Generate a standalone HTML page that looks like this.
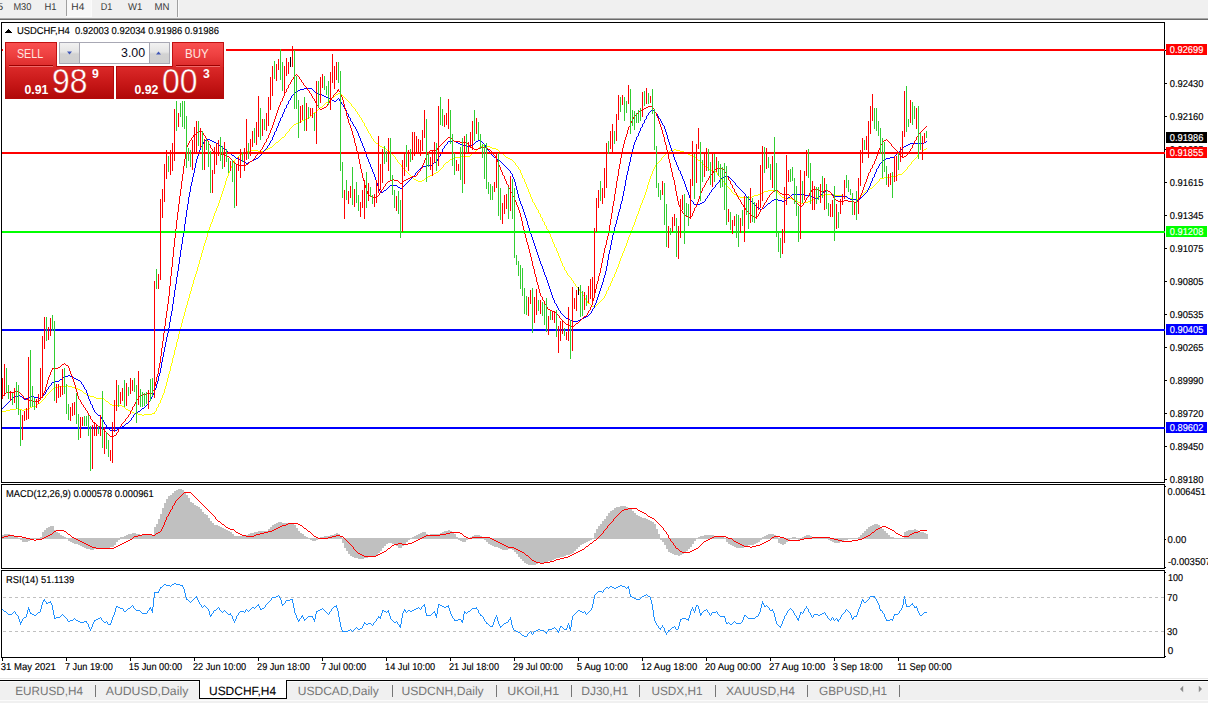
<!DOCTYPE html><html><head><meta charset="utf-8"><title>USDCHF,H4</title><style>
html,body{margin:0;padding:0;background:#fff;}
body{width:1208px;height:703px;overflow:hidden;position:relative;font-family:"Liberation Sans",sans-serif;}
.abs{position:absolute;}
.t{position:absolute;white-space:nowrap;line-height:1;}
svg text{font-family:"Liberation Sans",sans-serif;}
</style></head><body>
<div class="abs" style="left:0;top:0;width:1208px;height:18px;background:#f0f0f0"></div>
<div class="abs" style="left:0;top:18px;width:1208px;height:1px;background:#a8a8a8"></div>
<div class="abs" style="left:0;top:19px;width:1208px;height:1px;background:#6a6a6a"></div>
<div class="abs" style="left:66px;top:0;width:1px;height:16px;background:#a0a0a0"></div>
<div class="abs" style="left:67px;top:0;width:24px;height:16px;background:#f8f8f8"></div>
<div class="abs" style="left:91px;top:0;width:1px;height:17px;background:#fbfbfb"></div>
<div class="abs" style="left:66px;top:16px;width:26px;height:1px;background:#fbfbfb"></div>
<div class="abs" style="left:177px;top:0;width:1px;height:17px;background:#a0a0a0"></div>
<div class="abs" style="left:178px;top:0;width:1px;height:17px;background:#fafafa"></div>
<svg class="abs" style="left:0;top:0" width="1208" height="703" viewBox="0 0 1208 703" shape-rendering="crispEdges">
<path d="M2 411v1M3 411v1M4 411v1M5 411v1M6 410v1M7 410v1M8 410v1M9 410v1M10 409v1M11 409v1M12 409v1M13 409v1M14 409v1M15 409v1M16 408v1M17 408v1M18 409v1M19 409v1M20 409v1M21 409v1M22 410v1M23 410v1M24 409v1M25 409v1M26 409v1M27 409v1M28 408v1M29 408v1M30 407v1M31 407v1M32 406v1M33 406v1M34 406v1M35 406v1M36 405v1M37 404v1M38 403v1M39 403v1M40 402v1M41 401v1M42 400v1M43 399v1M44 398v1M45 396v2M46 395v1M47 394v1M48 393v1M49 392v1M50 391v1M51 390v1M52 389v1M53 388v1M54 387v1M55 387v1M56 387v1M57 387v1M58 386v1M59 386v1M60 386v1M61 386v1M62 386v1M63 386v1M64 386v1M65 386v1M66 385v1M67 385v1M68 386v1M69 386v1M70 386v1M71 386v1M72 387v1M73 387v1M74 387v1M75 387v1M76 388v1M77 388v1M78 389v1M79 389v1M80 390v1M81 390v1M82 391v1M83 392v1M84 393v1M85 393v1M86 394v1M87 394v1M88 395v1M89 395v1M90 396v1M91 396v1M92 396v1M93 396v1M94 397v1M95 397v1M96 398v1M97 398v1M98 398v1M99 398v1M100 398v1M101 398v1M102 398v1M103 398v1M104 399v1M105 400v1M106 401v1M107 401v1M108 402v1M109 403v1M110 404v1M111 404v1M112 405v1M113 405v1M114 405v1M115 405v1M116 405v1M117 405v1M118 405v1M119 405v1M120 405v1M121 405v1M122 406v1M123 406v1M124 407v1M125 408v1M126 409v1M127 409v1M128 410v1M129 410v1M130 411v1M131 411v1M132 412v1M133 412v1M134 413v1M135 413v1M136 413v1M137 413v1M138 414v1M139 414v1M140 414v1M141 414v1M142 415v1M143 415v1M144 414v1M145 414v1M146 414v1M147 414v1M148 414v1M149 414v1M150 414v1M151 414v1M152 413v1M153 413v1M154 412v2M155 411v1M156 408v3M157 407v1M158 404v3M159 403v1M160 400v3M161 398v2M162 395v3M163 393v2M164 389v4M165 386v3M166 382v4M167 378v4M168 374v4M169 371v3M170 366v5M171 363v3M172 358v5M173 355v3M174 350v5M175 347v3M176 342v5M177 339v3M178 334v5M179 331v3M180 327v4M181 323v4M182 319v4M183 316v3M184 312v4M185 308v4M186 305v3M187 301v4M188 298v3M189 294v4M190 291v3M191 287v4M192 284v3M193 280v4M194 277v3M195 274v3M196 271v3M197 267v4M198 264v3M199 260v4M200 257v3M201 253v4M202 250v3M203 246v4M204 243v3M205 240v3M206 237v3M207 233v4M208 230v3M209 227v3M210 224v3M211 222v2M212 219v3M213 216v3M214 213v3M215 211v2M216 208v3M217 206v2M218 203v3M219 200v3M220 197v3M221 194v3M222 191v3M223 188v3M224 185v3M225 181v4M226 178v3M227 176v2M228 173v3M229 171v2M230 168v3M231 166v2M232 163v3M233 162v1M234 160v2M235 159v1M236 158v1M237 157v1M238 156v1M239 155v1M240 154v1M241 154v1M242 153v1M243 153v1M244 152v1M245 152v1M246 151v1M247 151v1M248 151v1M249 151v1M250 150v1M251 150v1M252 150v1M253 150v1M254 150v1M255 150v1M256 150v1M257 150v1M258 151v1M259 151v1M260 151v1M261 151v1M262 151v1M263 151v1M264 150v1M265 150v1M266 149v1M267 149v1M268 148v1M269 148v1M270 147v1M271 147v1M272 146v1M273 145v1M274 144v1M275 143v1M276 142v1M277 142v1M278 141v1M279 140v1M280 139v1M281 138v1M282 137v1M283 137v1M284 136v1M285 134v2M286 133v1M287 132v1M288 131v1M289 129v2M290 128v1M291 127v1M292 126v1M293 125v1M294 124v1M295 124v1M296 123v1M297 123v1M298 122v1M299 122v1M300 121v1M301 121v1M302 120v1M303 120v1M304 119v1M305 119v1M306 118v1M307 118v1M308 117v1M309 117v1M310 116v1M311 115v1M312 114v1M313 113v1M314 112v1M315 112v1M316 111v1M317 110v1M318 109v1M319 108v1M320 107v1M321 107v1M322 106v1M323 105v1M324 104v1M325 103v1M326 102v1M327 102v1M328 101v1M329 100v1M330 99v1M331 98v1M332 97v1M333 97v1M334 96v1M335 95v1M336 94v1M337 94v1M338 93v1M339 93v1M340 94v1M341 94v1M342 95v1M343 96v1M344 97v1M345 98v1M346 99v1M347 100v1M348 101v1M349 102v1M350 103v1M351 104v2M352 106v1M353 107v1M354 108v1M355 109v2M356 111v1M357 112v2M358 114v1M359 115v2M360 117v1M361 118v2M362 120v2M363 122v1M364 123v3M365 126v1M366 127v2M367 129v2M368 131v2M369 133v1M370 134v2M371 136v2M372 138v1M373 139v2M374 141v1M375 142v1M376 143v1M377 143v1M378 144v1M379 145v1M380 146v1M381 146v1M382 147v1M383 147v1M384 148v1M385 148v1M386 149v1M387 150v1M388 151v1M389 151v1M390 152v1M391 153v1M392 154v1M393 155v1M394 156v1M395 157v2M396 159v1M397 160v2M398 162v1M399 163v1M400 164v1M401 165v2M402 167v1M403 168v1M404 169v1M405 170v1M406 171v1M407 172v1M408 173v1M409 174v1M410 175v1M411 176v1M412 177v1M413 178v1M414 179v1M415 179v1M416 180v1M417 180v1M418 181v1M419 181v1M420 181v1M421 181v1M422 180v1M423 180v1M424 179v1M425 178v1M426 177v1M427 177v1M428 176v1M429 176v1M430 175v1M431 175v1M432 174v1M433 174v1M434 173v1M435 173v1M436 172v1M437 172v1M438 171v1M439 170v1M440 169v1M441 168v1M442 167v1M443 165v2M444 164v1M445 163v1M446 162v1M447 162v1M448 161v1M449 160v1M450 159v1M451 159v1M452 158v1M453 158v1M454 157v1M455 157v1M456 157v1M457 157v1M458 157v1M459 157v1M460 156v1M461 156v1M462 156v1M463 156v1M464 156v1M465 156v1M466 156v1M467 156v1M468 156v1M469 156v1M470 155v1M471 154v1M472 153v1M473 153v1M474 152v1M475 151v1M476 150v1M477 149v1M478 148v1M479 147v1M480 146v1M481 146v1M482 145v1M483 145v1M484 145v1M485 145v1M486 146v1M487 146v1M488 146v1M489 146v1M490 147v1M491 147v1M492 148v1M493 148v1M494 148v1M495 148v1M496 149v1M497 149v1M498 150v1M499 151v1M500 152v1M501 152v1M502 153v1M503 154v1M504 155v1M505 156v1M506 157v1M507 157v1M508 158v1M509 158v1M510 159v1M511 159v1M512 160v1M513 161v1M514 162v1M515 163v2M516 165v1M517 166v1M518 167v2M519 169v1M520 170v3M521 173v2M522 175v3M523 178v1M524 179v3M525 182v2M526 184v3M527 187v2M528 189v3M529 192v2M530 194v3M531 197v2M532 199v3M533 202v1M534 203v2M535 205v2M536 207v2M537 209v1M538 210v3M539 213v1M540 214v3M541 217v1M542 218v3M543 221v1M544 222v3M545 225v1M546 226v3M547 229v1M548 230v3M549 233v1M550 234v3M551 237v2M552 239v3M553 242v2M554 244v3M555 247v1M556 248v3M557 251v2M558 253v3M559 256v2M560 258v3M561 261v2M562 263v3M563 266v1M564 267v3M565 270v1M566 271v2M567 273v2M568 275v1M569 276v1M570 277v1M571 278v2M572 280v1M573 281v2M574 283v1M575 284v2M576 286v1M577 287v1M578 288v1M579 289v2M580 291v1M581 292v1M582 293v2M583 295v1M584 296v2M585 298v2M586 300v1M587 301v2M588 303v1M589 303v1M590 304v1M591 305v1M592 306v1M593 306v1M594 306v1M595 306v1M596 305v1M597 304v1M598 303v1M599 302v1M600 301v1M601 300v1M602 299v1M603 298v1M604 296v2M605 294v2M606 291v3M607 290v1M608 287v3M609 286v1M610 283v3M611 281v2M612 278v3M613 277v1M614 274v3M615 272v2M616 269v3M617 267v2M618 264v3M619 261v3M620 258v3M621 256v2M622 253v3M623 251v2M624 248v3M625 246v2M626 243v3M627 240v3M628 237v3M629 235v2M630 232v3M631 230v2M632 227v3M633 225v2M634 222v3M635 219v3M636 216v3M637 214v2M638 211v3M639 208v3M640 205v3M641 203v2M642 200v3M643 198v2M644 195v3M645 192v3M646 189v3M647 185v4M648 182v3M649 179v3M650 176v3M651 174v2M652 171v3M653 169v2M654 167v2M655 165v2M656 164v1M657 163v1M658 162v1M659 161v1M660 160v1M661 158v2M662 157v1M663 156v1M664 155v1M665 154v1M666 153v1M667 153v1M668 152v1M669 151v1M670 150v1M671 150v1M672 150v1M673 150v1M674 149v1M675 149v1M676 150v1M677 150v1M678 150v1M679 150v1M680 151v1M681 151v1M682 151v1M683 151v1M684 152v1M685 152v1M686 153v1M687 153v1M688 154v1M689 154v1M690 155v1M691 155v1M692 156v1M693 156v1M694 157v1M695 157v1M696 158v1M697 159v1M698 160v1M699 160v1M700 161v1M701 162v1M702 163v1M703 164v1M704 165v1M705 166v1M706 167v1M707 167v1M708 168v1M709 169v1M710 170v1M711 170v1M712 171v1M713 171v1M714 171v1M715 171v1M716 172v1M717 173v2M718 175v1M719 176v1M720 177v1M721 178v2M722 180v1M723 181v1M724 182v1M725 183v2M726 185v1M727 186v1M728 187v1M729 188v1M730 189v1M731 190v2M732 192v1M733 193v1M734 194v1M735 194v1M736 195v1M737 195v1M738 196v1M739 196v1M740 197v1M741 197v1M742 197v1M743 197v1M744 197v1M745 197v1M746 197v1M747 197v1M748 197v1M749 197v1M750 197v1M751 197v1M752 196v1M753 196v1M754 195v1M755 195v1M756 195v1M757 195v1M758 194v1M759 194v1M760 193v1M761 193v1M762 192v1M763 192v1M764 191v1M765 191v1M766 191v1M767 191v1M768 190v1M769 190v1M770 190v1M771 190v1M772 190v1M773 190v1M774 190v1M775 190v1M776 190v1M777 191v2M778 193v1M779 194v1M780 195v1M781 196v1M782 197v1M783 197v1M784 198v1M785 198v1M786 198v1M787 198v1M788 198v1M789 198v1M790 198v1M791 198v1M792 199v1M793 199v1M794 200v1M795 200v1M796 201v1M797 201v1M798 202v1M799 202v1M800 203v1M801 203v1M802 203v1M803 203v1M804 202v1M805 202v1M806 202v1M807 202v1M808 201v1M809 201v1M810 200v1M811 200v1M812 199v1M813 199v1M814 198v1M815 198v1M816 197v1M817 197v1M818 196v1M819 196v1M820 195v1M821 195v1M822 195v1M823 195v1M824 194v1M825 194v1M826 194v1M827 194v1M828 194v1M829 194v1M830 194v1M831 194v1M832 194v1M833 194v1M834 195v1M835 195v1M836 195v1M837 195v1M838 195v1M839 195v1M840 195v1M841 195v1M842 196v1M843 196v1M844 196v1M845 196v1M846 197v1M847 197v1M848 198v1M849 198v1M850 198v1M851 198v1M852 199v1M853 199v1M854 199v1M855 199v1M856 199v1M857 199v1M858 198v1M859 197v1M860 196v1M861 195v1M862 194v1M863 193v1M864 192v1M865 191v1M866 190v1M867 190v1M868 189v1M869 189v1M870 188v1M871 188v1M872 187v1M873 186v1M874 185v1M875 184v1M876 183v1M877 182v1M878 181v1M879 179v2M880 178v1M881 178v1M882 178v1M883 178v1M884 177v1M885 177v1M886 177v1M887 177v1M888 177v1M889 177v1M890 176v1M891 176v1M892 176v1M893 176v1M894 176v1M895 176v1M896 175v1M897 175v1M898 174v1M899 174v1M900 174v1M901 174v1M902 173v1M903 172v1M904 171v1M905 170v1M906 169v1M907 167v2M908 166v1M909 165v1M910 164v1M911 162v2M912 161v1M913 160v1M914 159v1M915 158v1M916 157v1M917 155v2M918 154v1M919 153v1M920 152v1M921 152v1M922 151v1M923 150v1M924 149v1M925 149v1M926 148v1" stroke="#ffff00" stroke-width="1" fill="none" transform="translate(0.5,0)"/>
<path d="M2 408v1M3 407v1M4 406v1M5 405v1M6 404v1M7 403v1M8 402v1M9 401v1M10 400v1M11 399v1M12 398v1M13 397v1M14 396v1M15 396v1M16 396v1M17 396v1M18 395v1M19 395v1M20 396v1M21 396v1M22 397v1M23 398v1M24 399v1M25 399v1M26 398v1M27 398v1M28 397v1M29 397v1M30 396v1M31 396v1M32 396v1M33 396v1M34 397v1M35 397v1M36 397v1M37 397v1M38 398v1M39 398v1M40 398v1M41 397v1M42 396v1M43 395v1M44 394v1M45 392v2M46 390v2M47 389v1M48 387v2M49 386v1M50 385v1M51 383v2M52 382v1M53 382v1M54 381v1M55 381v1M56 381v1M57 381v1M58 381v1M59 380v1M60 379v1M61 379v1M62 378v1M63 377v1M64 376v1M65 376v1M66 376v1M67 376v1M68 375v1M69 375v1M70 376v1M71 376v1M72 377v1M73 377v1M74 378v1M75 378v1M76 379v1M77 379v1M78 380v1M79 380v1M80 381v1M81 382v2M82 384v1M83 385v2M84 387v2M85 389v1M86 390v3M87 393v3M88 396v3M89 399v2M90 401v3M91 404v1M92 405v3M93 408v2M94 410v2M95 412v1M96 413v1M97 414v1M98 415v1M99 415v1M100 416v1M101 417v2M102 419v1M103 420v2M104 422v2M105 424v1M106 425v2M107 427v1M108 428v1M109 429v1M110 430v1M111 430v1M112 430v1M113 430v1M114 430v1M115 430v1M116 430v1M117 429v1M118 428v1M119 428v1M120 427v1M121 427v1M122 426v1M123 426v1M124 425v1M125 424v1M126 423v1M127 423v1M128 422v1M129 421v1M130 420v1M131 418v2M132 417v1M133 415v2M134 414v1M135 413v1M136 412v1M137 412v1M138 411v1M139 411v1M140 410v1M141 409v1M142 408v1M143 408v1M144 407v1M145 406v1M146 405v1M147 404v1M148 402v2M149 401v1M150 399v2M151 397v2M152 395v2M153 393v2M154 390v3M155 388v2M156 384v4M157 381v3M158 376v5M159 373v3M160 368v5M161 362v6M162 357v5M163 352v5M164 347v5M165 342v5M166 337v5M167 333v4M168 328v5M169 322v6M170 316v6M171 311v5M172 304v7M173 297v7M174 290v7M175 284v6M176 277v7M177 271v6M178 264v7M179 257v7M180 250v7M181 244v6M182 237v7M183 231v6M184 224v7M185 217v7M186 210v7M187 204v6M188 197v7M189 192v5M190 186v6M191 182v4M192 177v5M193 173v4M194 168v5M195 163v5M196 159v4M197 156v3M198 153v3M199 150v3M200 147v3M201 146v1M202 144v2M203 142v2M204 141v1M205 140v1M206 139v1M207 139v1M208 139v1M209 139v1M210 140v1M211 140v1M212 141v1M213 141v1M214 142v1M215 142v1M216 143v1M217 143v1M218 144v1M219 145v1M220 146v1M221 146v1M222 147v1M223 148v1M224 149v1M225 149v1M226 150v1M227 151v1M228 152v1M229 152v1M230 153v1M231 154v1M232 155v1M233 155v1M234 156v1M235 157v1M236 158v1M237 158v1M238 159v1M239 159v1M240 160v1M241 160v1M242 161v1M243 161v1M244 162v1M245 162v1M246 163v1M247 163v1M248 162v1M249 162v1M250 161v1M251 161v1M252 160v1M253 160v1M254 159v1M255 159v1M256 158v1M257 158v1M258 157v1M259 156v1M260 155v1M261 154v1M262 153v1M263 151v2M264 150v1M265 149v1M266 148v1M267 146v2M268 145v1M269 143v2M270 141v2M271 140v1M272 137v3M273 135v2M274 132v3M275 131v1M276 128v3M277 126v2M278 123v3M279 121v2M280 118v3M281 117v1M282 114v3M283 112v2M284 109v3M285 108v1M286 105v3M287 104v1M288 101v3M289 100v1M290 98v2M291 96v2M292 95v1M293 94v1M294 93v1M295 92v1M296 91v1M297 91v1M298 90v1M299 90v1M300 89v1M301 89v1M302 89v1M303 89v1M304 88v1M305 88v1M306 88v1M307 88v1M308 88v1M309 88v1M310 88v1M311 88v1M312 89v1M313 90v1M314 91v1M315 92v1M316 93v1M317 93v1M318 94v1M319 94v1M320 94v1M321 94v1M322 95v1M323 95v1M324 96v1M325 96v1M326 97v1M327 97v1M328 98v1M329 98v1M330 99v1M331 99v1M332 100v1M333 100v1M334 101v1M335 101v1M336 100v1M337 99v1M338 98v1M339 99v2M340 101v1M341 102v2M342 104v1M343 105v2M344 107v2M345 109v1M346 110v3M347 113v1M348 114v3M349 117v1M350 118v3M351 121v1M352 122v2M353 124v2M354 126v1M355 127v2M356 129v2M357 131v2M358 133v3M359 136v2M360 138v3M361 141v2M362 143v3M363 146v2M364 148v3M365 151v3M366 154v3M367 157v2M368 159v3M369 162v2M370 164v3M371 167v2M372 169v3M373 172v2M374 174v3M375 177v3M376 180v3M377 183v3M378 186v3M379 189v2M380 191v2M381 192v1M382 192v1M383 191v1M384 190v1M385 190v1M386 189v1M387 188v1M388 187v1M389 186v1M390 185v1M391 185v1M392 185v1M393 185v1M394 185v1M395 185v1M396 185v1M397 186v1M398 187v1M399 187v1M400 188v1M401 188v1M402 187v1M403 186v1M404 185v1M405 184v1M406 183v1M407 182v1M408 181v1M409 180v1M410 179v1M411 178v1M412 177v1M413 176v1M414 175v1M415 173v2M416 172v1M417 171v1M418 170v1M419 169v1M420 168v1M421 167v1M422 166v1M423 166v1M424 166v1M425 166v1M426 165v1M427 165v1M428 165v1M429 165v1M430 165v1M431 165v1M432 164v1M433 163v1M434 162v1M435 162v1M436 161v1M437 159v2M438 157v2M439 156v1M440 153v3M441 152v1M442 149v3M443 148v1M444 146v2M445 145v1M446 144v1M447 142v2M448 141v1M449 141v1M450 141v1M451 141v1M452 140v1M453 140v1M454 141v1M455 141v1M456 142v1M457 142v1M458 143v1M459 143v1M460 144v1M461 144v1M462 145v1M463 145v1M464 145v1M465 145v1M466 146v1M467 146v1M468 146v1M469 146v1M470 145v1M471 145v1M472 144v1M473 144v1M474 143v1M475 142v1M476 141v1M477 141v1M478 140v1M479 140v1M480 141v1M481 141v1M482 142v1M483 143v1M484 144v1M485 145v2M486 147v1M487 148v2M488 150v1M489 151v1M490 152v1M491 153v2M492 155v1M493 156v1M494 157v1M495 157v1M496 158v1M497 159v1M498 160v1M499 160v1M500 161v1M501 162v1M502 163v1M503 164v1M504 165v1M505 166v1M506 167v1M507 168v1M508 169v1M509 170v1M510 171v2M511 173v1M512 174v3M513 177v2M514 179v3M515 182v4M516 186v4M517 190v4M518 194v4M519 198v3M520 201v3M521 204v2M522 206v3M523 209v3M524 212v3M525 215v3M526 218v3M527 221v4M528 225v3M529 228v3M530 231v3M531 234v3M532 237v3M533 240v3M534 243v3M535 246v3M536 249v3M537 252v3M538 255v3M539 258v3M540 261v3M541 264v2M542 266v3M543 269v3M544 272v3M545 275v2M546 277v3M547 280v3M548 283v3M549 286v3M550 289v3M551 292v3M552 295v3M553 298v2M554 300v3M555 303v1M556 304v2M557 306v2M558 308v2M559 310v1M560 311v2M561 313v1M562 314v1M563 315v1M564 316v1M565 317v1M566 318v1M567 318v1M568 319v1M569 319v1M570 320v1M571 320v1M572 321v1M573 321v1M574 321v1M575 321v1M576 321v1M577 321v1M578 320v1M579 320v1M580 319v1M581 319v1M582 318v1M583 318v1M584 317v1M585 317v1M586 316v1M587 316v1M588 315v1M589 314v1M590 313v1M591 311v2M592 309v2M593 308v1M594 305v3M595 303v2M596 300v3M597 297v3M598 294v3M599 291v3M600 288v3M601 285v3M602 282v3M603 278v4M604 275v3M605 271v4M606 266v5M607 260v6M608 254v6M609 250v4M610 245v5M611 240v5M612 235v5M613 232v3M614 227v5M615 224v3M616 220v4M617 216v4M618 212v4M619 209v3M620 204v5M621 201v3M622 196v5M623 191v5M624 186v5M625 180v6M626 175v5M627 171v4M628 166v5M629 162v4M630 157v5M631 153v4M632 149v4M633 145v4M634 142v3M635 140v2M636 137v3M637 136v1M638 133v3M639 131v2M640 128v3M641 127v1M642 124v3M643 123v1M644 120v3M645 119v1M646 116v3M647 115v1M648 113v2M649 112v1M650 111v1M651 110v1M652 109v1M653 110v1M654 111v1M655 112v1M656 113v1M657 114v2M658 116v2M659 118v1M660 119v2M661 121v2M662 123v2M663 125v1M664 126v3M665 129v3M666 132v3M667 135v4M668 139v3M669 142v3M670 145v3M671 148v3M672 151v3M673 154v3M674 157v3M675 160v2M676 162v3M677 165v2M678 167v3M679 170v1M680 171v3M681 174v2M682 176v3M683 179v2M684 181v3M685 184v3M686 187v3M687 190v2M688 192v3M689 195v3M690 198v2M691 200v1M692 201v1M693 202v2M694 204v1M695 204v1M696 204v1M697 204v1M698 204v1M699 204v1M700 203v1M701 203v1M702 202v1M703 202v1M704 201v1M705 199v2M706 198v1M707 196v2M708 195v1M709 193v2M710 192v1M711 190v2M712 189v1M713 188v1M714 187v1M715 185v2M716 184v1M717 183v1M718 182v1M719 180v2M720 179v1M721 178v1M722 177v1M723 177v1M724 176v1M725 176v1M726 176v1M727 176v1M728 176v1M729 177v1M730 178v1M731 179v1M732 180v1M733 181v1M734 182v1M735 183v2M736 185v1M737 186v1M738 187v1M739 188v1M740 189v1M741 190v1M742 191v1M743 192v1M744 193v1M745 194v2M746 196v1M747 197v1M748 198v1M749 199v1M750 200v1M751 201v1M752 202v1M753 203v1M754 204v1M755 205v1M756 206v1M757 207v1M758 208v1M759 208v1M760 209v1M761 209v1M762 208v1M763 208v1M764 207v1M765 206v1M766 205v1M767 204v1M768 203v1M769 203v1M770 202v1M771 201v1M772 200v1M773 200v1M774 199v1M775 199v1M776 199v1M777 199v1M778 200v1M779 200v1M780 200v1M781 200v1M782 201v1M783 201v1M784 200v1M785 200v1M786 199v1M787 198v1M788 197v1M789 197v1M790 196v1M791 195v1M792 194v1M793 194v1M794 194v1M795 194v1M796 194v1M797 194v1M798 194v1M799 194v1M800 194v1M801 194v1M802 194v1M803 194v1M804 195v1M805 195v1M806 195v1M807 195v1M808 195v1M809 195v1M810 196v1M811 196v1M812 197v1M813 197v1M814 198v1M815 198v1M816 199v1M817 198v1M818 197v1M819 196v1M820 195v1M821 194v1M822 193v1M823 192v1M824 191v1M825 191v1M826 190v1M827 190v1M828 191v1M829 191v1M830 192v1M831 193v1M832 194v1M833 195v1M834 196v1M835 196v1M836 196v1M837 196v1M838 196v1M839 196v1M840 196v1M841 196v1M842 196v1M843 196v1M844 196v1M845 196v1M846 196v1M847 197v1M848 198v1M849 198v1M850 199v1M851 199v1M852 199v1M853 199v1M854 199v1M855 199v1M856 200v1M857 200v1M858 199v1M859 199v1M860 198v1M861 197v1M862 196v1M863 195v1M864 194v1M865 193v1M866 192v1M867 190v2M868 188v2M869 186v2M870 183v3M871 181v2M872 178v3M873 177v1M874 174v3M875 172v2M876 169v3M877 168v1M878 166v2M879 164v2M880 163v1M881 162v1M882 161v1M883 160v1M884 159v1M885 159v1M886 158v1M887 158v1M888 158v1M889 158v1M890 157v1M891 157v1M892 157v1M893 157v1M894 156v1M895 155v1M896 154v1M897 153v1M898 152v1M899 151v1M900 150v1M901 149v1M902 148v1M903 147v1M904 146v1M905 146v1M906 145v1M907 145v1M908 144v1M909 144v1M910 143v1M911 143v1M912 143v1M913 143v1M914 143v1M915 143v1M916 143v1M917 143v1M918 143v1M919 143v1M920 143v1M921 143v1M922 143v1M923 143v1M924 142v1M925 142v1M926 141v1" stroke="#0000ff" stroke-width="1" fill="none" transform="translate(0.5,0)"/>
<path d="M2 396v1M3 395v1M4 394v1M5 393v1M6 392v1M7 392v1M8 392v1M9 392v1M10 392v1M11 392v1M12 392v1M13 392v1M14 391v1M15 391v1M16 390v1M17 391v1M18 392v1M19 392v1M20 393v1M21 394v1M22 395v1M23 396v2M24 398v1M25 398v1M26 399v1M27 399v1M28 400v1M29 400v1M30 400v1M31 400v1M32 401v1M33 401v1M34 401v1M35 401v1M36 401v1M37 401v1M38 400v1M39 400v1M40 398v2M41 397v1M42 395v2M43 393v2M44 391v2M45 387v4M46 384v3M47 380v4M48 377v3M49 375v2M50 372v3M51 370v2M52 368v2M53 368v1M54 368v1M55 368v1M56 368v1M57 368v1M58 367v1M59 367v1M60 366v1M61 365v1M62 364v1M63 364v1M64 363v1M65 364v1M66 365v1M67 365v1M68 366v2M69 368v3M70 371v3M71 374v2M72 376v3M73 379v3M74 382v3M75 385v4M76 389v3M77 392v4M78 396v3M79 399v1M80 400v2M81 402v2M82 404v1M83 405v2M84 407v1M85 408v2M86 410v1M87 411v2M88 413v2M89 415v1M90 416v3M91 419v1M92 420v2M93 422v1M94 423v1M95 423v1M96 424v1M97 425v1M98 426v1M99 426v1M100 427v1M101 428v1M102 429v1M103 429v1M104 430v1M105 431v1M106 432v1M107 433v1M108 434v1M109 435v1M110 436v1M111 436v1M112 437v1M113 436v1M114 435v1M115 435v1M116 433v2M117 432v1M118 429v3M119 428v1M120 426v2M121 424v2M122 423v1M123 422v1M124 421v1M125 419v2M126 418v1M127 417v1M128 415v2M129 414v1M130 411v3M131 410v1M132 407v3M133 406v1M134 404v2M135 402v2M136 400v2M137 399v1M138 397v2M139 396v1M140 395v1M141 395v1M142 394v1M143 394v1M144 394v1M145 394v1M146 393v1M147 393v1M148 393v1M149 393v1M150 393v1M151 393v1M152 391v2M153 390v1M154 386v4M155 382v4M156 377v5M157 374v3M158 368v6M159 363v5M160 356v7M161 348v8M162 341v7M163 333v8M164 326v7M165 318v8M166 311v7M167 304v7M168 296v8M169 286v10M170 276v10M171 267v9M172 257v10M173 247v10M174 238v9M175 229v9M176 220v9M177 212v8M178 204v8M179 196v8M180 189v7M181 181v8M182 174v7M183 166v8M184 159v7M185 152v7M186 147v5M187 145v2M188 143v2M189 141v2M190 140v1M191 138v2M192 137v1M193 135v2M194 134v1M195 134v1M196 133v1M197 132v1M198 131v1M199 131v1M200 130v1M201 131v1M202 132v1M203 133v2M204 135v1M205 136v2M206 138v2M207 140v1M208 141v3M209 144v1M210 145v3M211 148v1M212 149v2M213 151v1M214 152v1M215 152v1M216 152v1M217 152v1M218 153v1M219 153v1M220 154v1M221 154v1M222 154v1M223 154v1M224 155v1M225 155v1M226 156v1M227 156v1M228 156v1M229 157v1M230 158v1M231 159v1M232 160v1M233 161v1M234 162v1M235 163v1M236 164v1M237 164v1M238 165v1M239 165v1M240 165v1M241 165v1M242 165v1M243 165v1M244 165v1M245 165v1M246 164v1M247 164v1M248 163v1M249 162v1M250 161v1M251 161v1M252 160v1M253 159v1M254 158v1M255 156v2M256 155v1M257 154v1M258 153v1M259 152v1M260 150v2M261 149v1M262 147v2M263 145v2M264 143v2M265 142v1M266 139v3M267 138v1M268 135v3M269 133v2M270 130v3M271 128v2M272 125v3M273 122v3M274 119v3M275 116v3M276 113v3M277 110v3M278 107v3M279 105v2M280 102v3M281 101v1M282 98v3M283 96v2M284 93v3M285 92v1M286 89v3M287 88v1M288 85v3M289 84v1M290 82v2M291 80v2M292 79v1M293 77v2M294 76v1M295 75v1M296 74v1M297 75v1M298 76v1M299 77v2M300 79v1M301 80v2M302 82v1M303 83v2M304 85v1M305 86v1M306 87v1M307 88v2M308 90v1M309 91v2M310 93v1M311 94v2M312 96v2M313 98v1M314 99v2M315 101v2M316 103v2M317 105v1M318 106v2M319 108v1M320 109v1M321 109v1M322 108v1M323 108v1M324 107v1M325 107v1M326 106v1M327 104v2M328 103v1M329 101v2M330 100v1M331 98v2M332 97v1M333 95v2M334 94v1M335 93v1M336 92v1M337 90v2M338 89v2M339 91v1M340 92v3M341 95v2M342 97v3M343 100v4M344 104v4M345 108v3M346 111v5M347 116v3M348 119v4M349 123v2M350 125v3M351 128v3M352 131v4M353 135v3M354 138v5M355 143v3M356 146v5M357 151v3M358 154v5M359 159v5M360 164v5M361 169v4M362 173v5M363 178v3M364 181v4M365 185v3M366 188v3M367 191v3M368 194v2M369 195v1M370 196v1M371 196v1M372 197v1M373 197v1M374 197v1M375 197v1M376 196v1M377 196v1M378 195v1M379 193v2M380 192v1M381 190v2M382 189v1M383 187v2M384 186v1M385 184v2M386 183v1M387 182v1M388 181v1M389 181v1M390 180v1M391 180v1M392 179v1M393 179v1M394 180v1M395 180v1M396 180v1M397 180v1M398 181v1M399 182v1M400 183v1M401 183v1M402 182v1M403 181v1M404 180v1M405 180v1M406 179v1M407 179v1M408 178v1M409 178v1M410 177v1M411 177v1M412 176v1M413 176v1M414 176v1M415 176v1M416 175v1M417 173v2M418 172v1M419 171v1M420 169v2M421 168v1M422 165v3M423 163v2M424 160v3M425 158v2M426 155v3M427 154v1M428 152v2M429 151v1M430 150v1M431 150v1M432 150v1M433 150v1M434 150v1M435 150v1M436 150v1M437 148v2M438 147v1M439 146v1M440 145v1M441 144v1M442 143v1M443 142v1M444 141v1M445 140v1M446 139v1M447 138v1M448 137v1M449 137v1M450 138v1M451 138v1M452 139v1M453 140v1M454 141v1M455 141v1M456 141v1M457 141v1M458 141v1M459 141v1M460 142v1M461 142v1M462 142v1M463 142v1M464 142v1M465 142v1M466 143v1M467 143v1M468 143v2M469 145v1M470 146v2M471 147v1M472 148v1M473 148v1M474 149v1M475 149v1M476 149v1M477 149v1M478 148v1M479 148v1M480 147v1M481 147v1M482 147v1M483 147v1M484 147v1M485 147v1M486 147v1M487 148v1M488 149v1M489 149v1M490 150v1M491 151v2M492 153v1M493 154v1M494 155v1M495 156v2M496 158v2M497 160v2M498 162v3M499 165v2M500 167v3M501 170v2M502 172v3M503 175v1M504 176v3M505 179v2M506 181v3M507 184v1M508 185v3M509 188v1M510 189v3M511 192v1M512 193v3M513 196v1M514 197v3M515 200v2M516 202v3M517 205v2M518 207v3M519 210v3M520 213v4M521 217v4M522 221v5M523 226v4M524 230v4M525 234v4M526 238v4M527 242v3M528 245v4M529 249v4M530 253v4M531 257v4M532 261v5M533 266v3M534 269v5M535 274v3M536 277v5M537 282v3M538 285v4M539 289v4M540 293v3M541 296v1M542 297v3M543 300v1M544 301v3M545 304v1M546 305v2M547 307v2M548 309v1M549 309v1M550 310v1M551 310v1M552 311v1M553 311v1M554 312v1M555 312v1M556 313v1M557 314v1M558 315v1M559 316v2M560 318v1M561 319v1M562 320v1M563 321v1M564 322v1M565 323v1M566 324v1M567 324v1M568 325v1M569 325v1M570 326v1M571 326v1M572 326v1M573 326v1M574 325v1M575 324v1M576 323v1M577 323v1M578 322v1M579 321v1M580 320v1M581 319v1M582 318v1M583 317v1M584 316v1M585 316v1M586 315v1M587 313v2M588 311v2M589 310v1M590 307v3M591 305v2M592 301v4M593 298v3M594 293v5M595 289v4M596 284v5M597 281v3M598 276v5M599 273v3M600 268v5M601 263v5M602 258v5M603 253v5M604 248v5M605 245v3M606 240v5M607 236v4M608 231v5M609 225v6M610 219v6M611 213v6M612 206v7M613 201v5M614 194v7M615 188v6M616 181v7M617 176v5M618 169v7M619 164v5M620 158v6M621 153v5M622 148v5M623 144v4M624 140v4M625 137v3M626 134v3M627 130v4M628 127v3M629 126v1M630 123v3M631 121v2M632 119v2M633 117v2M634 116v1M635 115v1M636 114v1M637 113v1M638 112v1M639 111v1M640 110v1M641 110v1M642 109v1M643 109v1M644 108v1M645 108v1M646 107v1M647 107v1M648 106v1M649 106v1M650 106v1M651 106v1M652 106v2M653 108v1M654 109v3M655 112v1M656 113v3M657 116v2M658 118v3M659 121v3M660 124v3M661 127v3M662 130v4M663 134v3M664 137v5M665 142v3M666 145v5M667 150v4M668 154v5M669 159v4M670 163v5M671 168v4M672 172v5M673 177v3M674 180v5M675 185v6M676 191v5M677 196v5M678 201v4M679 205v2M680 207v3M681 210v1M682 211v2M683 213v1M684 214v1M685 215v1M686 216v1M687 216v1M688 217v1M689 217v1M690 217v2M691 216v1M692 213v3M693 211v2M694 208v3M695 207v1M696 204v3M697 202v2M698 199v3M699 196v3M700 193v3M701 191v2M702 188v3M703 187v1M704 185v2M705 183v2M706 181v2M707 180v1M708 178v2M709 176v2M710 175v1M711 174v1M712 173v1M713 171v2M714 170v1M715 169v1M716 168v1M717 168v1M718 168v1M719 168v1M720 168v1M721 168v1M722 169v1M723 169v1M724 170v2M725 172v1M726 173v3M727 176v1M728 177v3M729 180v1M730 181v3M731 184v1M732 185v3M733 188v1M734 189v3M735 192v1M736 193v2M737 195v2M738 197v2M739 199v1M740 200v2M741 202v2M742 204v1M743 205v2M744 207v1M745 208v2M746 210v1M747 211v1M748 212v1M749 213v1M750 214v1M751 215v1M752 216v1M753 216v1M754 217v1M755 217v1M756 217v2M757 216v1M758 214v2M759 212v2M760 210v2M761 209v1M762 207v2M763 205v2M764 203v2M765 202v1M766 200v2M767 198v2M768 197v1M769 195v2M770 194v1M771 193v1M772 192v1M773 191v1M774 190v1M775 190v1M776 189v1M777 190v1M778 191v1M779 192v1M780 193v1M781 193v1M782 194v1M783 194v1M784 194v1M785 194v1M786 194v1M787 194v1M788 194v1M789 195v1M790 196v1M791 197v1M792 198v1M793 199v1M794 200v1M795 201v1M796 202v1M797 203v1M798 204v1M799 205v1M800 206v1M801 206v1M802 205v1M803 203v2M804 202v1M805 200v2M806 198v2M807 197v1M808 195v2M809 193v2M810 192v1M811 190v2M812 189v1M813 189v1M814 189v1M815 189v1M816 189v1M817 189v1M818 190v1M819 190v1M820 191v1M821 191v1M822 191v1M823 191v1M824 190v1M825 190v1M826 190v1M827 190v1M828 191v1M829 191v1M830 192v1M831 193v2M832 195v1M833 196v2M834 198v1M835 199v1M836 200v1M837 200v1M838 201v1M839 201v1M840 201v1M841 201v1M842 201v1M843 201v1M844 200v1M845 200v1M846 200v1M847 200v1M848 201v1M849 201v1M850 201v1M851 201v1M852 201v1M853 201v1M854 202v1M855 202v1M856 202v1M857 201v1M858 199v2M859 198v1M860 195v3M861 193v2M862 190v3M863 187v3M864 184v3M865 182v2M866 179v3M867 176v3M868 173v3M869 172v1M870 169v3M871 168v1M872 165v3M873 164v1M874 161v3M875 159v2M876 156v3M877 153v3M878 150v3M879 148v2M880 145v3M881 144v1M882 142v2M883 141v1M884 140v1M885 140v1M886 139v1M887 140v1M888 141v1M889 142v1M890 143v1M891 144v2M892 146v1M893 147v1M894 148v1M895 149v1M896 150v1M897 151v1M898 152v1M899 153v2M900 155v1M901 156v1M902 157v1M903 157v1M904 156v1M905 156v1M906 155v1M907 154v1M908 153v1M909 151v2M910 149v2M911 148v1M912 145v3M913 144v1M914 141v3M915 140v1M916 137v3M917 136v1M918 134v2M919 133v1M920 132v1M921 131v1M922 130v1M923 129v1M924 128v1M925 127v1M926 126v1" stroke="#ff0000" stroke-width="1" fill="none" transform="translate(0.5,0)"/>
<rect x="2" y="49" width="1163" height="2" fill="#ff0000"/>
<rect x="2" y="152" width="1163" height="2" fill="#ff0000"/>
<rect x="2" y="231" width="1163" height="2" fill="#00ff00"/>
<rect x="2" y="329" width="1163" height="2" fill="#0000ff"/>
<rect x="2" y="427" width="1163" height="2" fill="#0000ff"/>
<path d="M2 378v21M4 364v32M10 391v10M14 388v15M22 415v25M24 411v10M26 408v12M28 357v62M36 399v9M38 394v10M40 368v31M42 336v62M44 317v32M48 327v13M50 318v18M56 384v19M58 384v14M60 386v11M62 369v26M70 407v14M72 403v13M74 402v13M80 417v21M82 417v9M92 425v44M94 422v14M96 424v12M100 415v21M104 427v27M110 450v11M112 422v41M114 400v32M116 380v31M120 392v12M122 388v13M126 383v23M130 378v16M132 380v11M138 371v34M148 390v19M154 281v117M158 274v15M160 199v81M162 189v29M164 164v38M166 150v29M170 150v25M172 143v28M174 109v52M178 113v14M192 140v30M194 127v27M196 121v31M200 128v20M204 139v31M212 170v23M214 147v27M216 143v22M218 140v16M224 142v25M230 161v10M236 164v42M238 157v14M240 149v29M244 148v23M246 119v41M250 139v17M252 131v16M256 122v23M258 96v41M262 119v17M266 113v18M268 97v29M270 77v33M272 66v30M276 64v17M278 59v11M284 66v29M286 58v18M288 62v12M292 46v21M300 106v17M302 105v15M306 103v28M310 108v8M312 108v10M316 81v63M320 77v26M322 74v14M330 72v38M332 54v29M334 66v23M336 62v18M344 190v29M348 191v13M350 186v12M354 189v18M360 202v15M362 190v18M364 180v39M368 183v18M374 194v13M376 180v23M378 136v57M380 164v26M382 149v34M388 138v33M396 196v15M402 160v72M404 153v23M408 150v21M412 132v28M414 132v24M416 136v17M418 139v14M420 140v16M422 130v21M424 110v28M430 157v13M432 150v26M434 142v21M438 106v60M444 115v12M446 113v12M448 99v30M456 160v11M458 164v7M464 136v48M468 142v12M470 132v15M472 121v29M476 118v16M494 182v10M496 153v35M502 203v21M504 195v19M506 194v15M510 176v35M528 297v19M530 290v14M534 297v26M536 289v26M540 300v14M548 316v19M552 311v9M554 311v12M558 326v27M560 321v20M562 321v13M566 332v8M568 307v34M572 287v64M574 298v11M576 290v21M584 292v18M588 286v17M590 279v20M592 277v25M594 228v70M596 198v34M598 190v18M602 188v16M604 168v30M606 143v45M610 131v18M612 124v29M616 114v27M618 95v25M622 95v10M628 85v19M642 92v25M646 88v16M650 96v7M662 181v14M668 226v22M672 217v15M674 214v12M678 226v33M680 199v39M682 195v15M690 179v39M692 141v45M696 144v39M698 128v21M704 154v23M706 148v23M712 154v33M716 157v15M728 209v13M732 220v14M734 216v10M740 218v15M744 196v46M750 188v35M756 203v15M758 200v10M760 165v43M762 146v55M766 148v21M772 156v32M782 229v25M784 187v56M786 155v50M788 170v12M800 170v69M804 171v29M806 150v26M812 181v29M814 186v24M820 184v19M824 178v32M830 204v13M832 200v17M836 204v25M840 199v15M842 194v11M844 180v19M854 202v13M858 178v36M860 150v36M862 138v25M866 136v14M868 121v37M870 106v28M872 94v27M888 174v13M890 173v12M894 156v26M896 156v25M900 147v15M902 131v27M904 91v46M910 100v23M916 108v21M922 136v24M924 133v10" stroke="#ff0000" stroke-width="1" fill="none" transform="translate(0.5,0)"/>
<path d="M6 368v25M8 385v14M12 393v12M16 382v27M18 385v30M20 410v36M30 350v57M32 386v21M34 398v12M46 317v24M52 315v16M54 321v80M64 368v26M66 384v30M68 404v16M76 393v31M78 414v26M84 416v10M86 416v10M88 415v21M90 426v45M98 426v8M102 391v57M106 432v17M108 440v17M118 385v22M124 380v27M128 387v9M134 378v14M136 385v38M140 389v18M142 392v15M144 393v13M146 392v12M150 379v22M152 378v18M156 269v20M168 156v16M176 101v30M180 103v14M182 101v26M184 101v28M186 116v52M188 148v13M190 150v17M198 121v25M202 131v39M206 139v11M208 142v25M210 151v42M220 137v24M222 146v23M226 149v13M228 158v15M232 160v22M234 163v45M242 152v10M248 143v16M254 128v15M260 108v32M264 119v11M274 61v18M280 49v31M282 62v29M294 50v59M296 76v33M298 100v38M304 97v34M308 107v12M314 113v18M318 81v27M324 76v14M326 86v9M328 81v24M338 62v21M340 71v100M342 162v36M346 180v20M352 167v38M356 182v21M358 195v16M366 172v36M370 187v10M372 195v9M384 146v18M386 151v11M390 138v42M392 175v20M394 190v18M398 191v23M400 200v38M406 145v22M410 149v13M426 119v63M428 153v14M436 143v28M440 97v28M442 109v17M450 110v34M452 134v32M454 153v22M460 147v33M462 138v55M466 134v19M474 110v31M478 122v18M480 134v15M482 144v14M484 144v35M486 143v46M488 182v12M490 184v16M492 186v14M498 153v63M500 188v32M508 187v32M512 179v40M514 188v70M516 255v10M518 261v15M520 265v24M522 268v28M524 288v26M526 296v19M532 288v45M538 300v11M542 302v14M544 304v21M546 298v34M550 311v9M556 310v27M564 328v8M570 320v39M580 285v32M582 291v25M586 295v11M600 181v20M608 141v13M614 131v13M620 97v15M624 97v24M626 101v12M630 89v45M632 110v16M634 111v19M636 113v10M638 110v13M640 108v13M644 91v15M648 93v11M652 89v25M654 109v41M656 146v42M658 183v14M660 190v10M664 183v42M666 204v43M670 228v7M676 218v39M684 194v50M686 203v13M688 204v22M694 154v45M700 142v59M702 160v22M708 149v22M710 162v23M714 154v28M718 161v15M720 164v24M722 167v20M724 163v47M726 166v59M730 212v18M736 214v24M738 215v32M742 210v16M746 197v18M748 196v33M752 198v24M754 202v21M764 147v26M768 157v11M770 164v16M774 137v55M776 163v74M778 232v20M780 238v20M790 169v13M792 167v14M794 178v26M796 186v30M798 206v36M802 181v22M808 149v29M810 163v41M816 187v17M818 187v13M822 176v22M826 184v25M828 203v13M834 186v55M838 212v16M846 175v13M848 180v12M850 189v6M852 193v22M856 191v29M864 140v10M874 108v21M876 108v23M878 121v15M880 128v26M882 138v40M884 142v30M886 166v19M892 172v26M898 153v17M906 86v46M908 119v8M912 102v23M914 106v13M918 106v53M920 133v17M926 131v7" stroke="#32cd32" stroke-width="1" fill="none" transform="translate(0.5,0)"/>
<path d="M290 57v10M578 287v8" stroke="#000000" stroke-width="1" fill="none" transform="translate(0.5,0)"/>
<g fill="#c0c0c0"><rect x="2" y="535" width="2" height="4"/><rect x="4" y="534" width="2" height="5"/><rect x="6" y="534" width="2" height="5"/><rect x="8" y="534" width="2" height="5"/><rect x="10" y="535" width="2" height="4"/><rect x="12" y="536" width="2" height="3"/><rect x="14" y="537" width="2" height="2"/><rect x="16" y="537" width="2" height="2"/><rect x="18" y="538" width="2" height="1"/><rect x="20" y="538" width="2" height="2"/><rect x="22" y="538" width="2" height="4"/><rect x="24" y="538" width="2" height="4"/><rect x="26" y="538" width="2" height="4"/><rect x="28" y="538" width="2" height="3"/><rect x="30" y="538" width="2" height="2"/><rect x="32" y="538" width="2" height="1"/><rect x="34" y="538" width="2" height="1"/><rect x="36" y="538" width="2" height="1"/><rect x="38" y="538" width="2" height="1"/><rect x="40" y="537" width="2" height="2"/><rect x="42" y="532" width="2" height="7"/><rect x="44" y="530" width="2" height="9"/><rect x="46" y="528" width="2" height="11"/><rect x="48" y="527" width="2" height="12"/><rect x="50" y="526" width="2" height="13"/><rect x="52" y="526" width="2" height="13"/><rect x="54" y="530" width="2" height="9"/><rect x="56" y="532" width="2" height="7"/><rect x="58" y="533" width="2" height="6"/><rect x="60" y="535" width="2" height="4"/><rect x="62" y="536" width="2" height="3"/><rect x="64" y="537" width="2" height="2"/><rect x="66" y="538" width="2" height="1"/><rect x="68" y="538" width="2" height="3"/><rect x="70" y="538" width="2" height="4"/><rect x="72" y="538" width="2" height="5"/><rect x="74" y="538" width="2" height="6"/><rect x="76" y="538" width="2" height="6"/><rect x="78" y="538" width="2" height="7"/><rect x="80" y="538" width="2" height="8"/><rect x="82" y="538" width="2" height="9"/><rect x="84" y="538" width="2" height="10"/><rect x="86" y="538" width="2" height="11"/><rect x="88" y="538" width="2" height="11"/><rect x="90" y="538" width="2" height="12"/><rect x="92" y="538" width="2" height="12"/><rect x="94" y="538" width="2" height="11"/><rect x="96" y="538" width="2" height="11"/><rect x="98" y="538" width="2" height="11"/><rect x="100" y="538" width="2" height="11"/><rect x="102" y="538" width="2" height="11"/><rect x="104" y="538" width="2" height="11"/><rect x="106" y="538" width="2" height="10"/><rect x="108" y="538" width="2" height="10"/><rect x="110" y="538" width="2" height="9"/><rect x="112" y="538" width="2" height="9"/><rect x="114" y="538" width="2" height="7"/><rect x="116" y="538" width="2" height="4"/><rect x="118" y="538" width="2" height="2"/><rect x="120" y="537" width="2" height="2"/><rect x="122" y="537" width="2" height="2"/><rect x="124" y="536" width="2" height="3"/><rect x="126" y="535" width="2" height="4"/><rect x="128" y="534" width="2" height="5"/><rect x="130" y="534" width="2" height="5"/><rect x="132" y="533" width="2" height="6"/><rect x="134" y="533" width="2" height="6"/><rect x="136" y="534" width="2" height="5"/><rect x="138" y="534" width="2" height="5"/><rect x="140" y="535" width="2" height="4"/><rect x="142" y="535" width="2" height="4"/><rect x="144" y="535" width="2" height="4"/><rect x="146" y="535" width="2" height="4"/><rect x="148" y="535" width="2" height="4"/><rect x="150" y="535" width="2" height="4"/><rect x="152" y="535" width="2" height="4"/><rect x="154" y="527" width="2" height="12"/><rect x="156" y="524" width="2" height="15"/><rect x="158" y="519" width="2" height="20"/><rect x="160" y="514" width="2" height="25"/><rect x="162" y="508" width="2" height="31"/><rect x="164" y="503" width="2" height="36"/><rect x="166" y="499" width="2" height="40"/><rect x="168" y="496" width="2" height="43"/><rect x="170" y="495" width="2" height="44"/><rect x="172" y="493" width="2" height="46"/><rect x="174" y="491" width="2" height="48"/><rect x="176" y="490" width="2" height="49"/><rect x="178" y="489" width="2" height="50"/><rect x="180" y="489" width="2" height="50"/><rect x="182" y="490" width="2" height="49"/><rect x="184" y="492" width="2" height="47"/><rect x="186" y="495" width="2" height="44"/><rect x="188" y="498" width="2" height="41"/><rect x="190" y="502" width="2" height="37"/><rect x="192" y="503" width="2" height="36"/><rect x="194" y="505" width="2" height="34"/><rect x="196" y="506" width="2" height="33"/><rect x="198" y="507" width="2" height="32"/><rect x="200" y="509" width="2" height="30"/><rect x="202" y="512" width="2" height="27"/><rect x="204" y="514" width="2" height="25"/><rect x="206" y="515" width="2" height="24"/><rect x="208" y="518" width="2" height="21"/><rect x="210" y="521" width="2" height="18"/><rect x="212" y="523" width="2" height="16"/><rect x="214" y="525" width="2" height="14"/><rect x="216" y="525" width="2" height="14"/><rect x="218" y="526" width="2" height="13"/><rect x="220" y="527" width="2" height="12"/><rect x="222" y="528" width="2" height="11"/><rect x="224" y="529" width="2" height="10"/><rect x="226" y="530" width="2" height="9"/><rect x="228" y="531" width="2" height="8"/><rect x="230" y="532" width="2" height="7"/><rect x="232" y="534" width="2" height="5"/><rect x="234" y="536" width="2" height="3"/><rect x="236" y="536" width="2" height="3"/><rect x="238" y="536" width="2" height="3"/><rect x="240" y="536" width="2" height="3"/><rect x="242" y="536" width="2" height="3"/><rect x="244" y="536" width="2" height="3"/><rect x="246" y="535" width="2" height="4"/><rect x="248" y="534" width="2" height="5"/><rect x="250" y="533" width="2" height="6"/><rect x="252" y="533" width="2" height="6"/><rect x="254" y="532" width="2" height="7"/><rect x="256" y="532" width="2" height="7"/><rect x="258" y="531" width="2" height="8"/><rect x="260" y="531" width="2" height="8"/><rect x="262" y="531" width="2" height="8"/><rect x="264" y="531" width="2" height="8"/><rect x="266" y="531" width="2" height="8"/><rect x="268" y="529" width="2" height="10"/><rect x="270" y="527" width="2" height="12"/><rect x="272" y="525" width="2" height="14"/><rect x="274" y="524" width="2" height="15"/><rect x="276" y="523" width="2" height="16"/><rect x="278" y="522" width="2" height="17"/><rect x="280" y="522" width="2" height="17"/><rect x="282" y="523" width="2" height="16"/><rect x="284" y="523" width="2" height="16"/><rect x="286" y="523" width="2" height="16"/><rect x="288" y="524" width="2" height="15"/><rect x="290" y="524" width="2" height="15"/><rect x="292" y="524" width="2" height="15"/><rect x="294" y="525" width="2" height="14"/><rect x="296" y="528" width="2" height="11"/><rect x="298" y="531" width="2" height="8"/><rect x="300" y="533" width="2" height="6"/><rect x="302" y="534" width="2" height="5"/><rect x="304" y="536" width="2" height="3"/><rect x="306" y="537" width="2" height="2"/><rect x="308" y="538" width="2" height="1"/><rect x="310" y="538" width="2" height="2"/><rect x="312" y="538" width="2" height="3"/><rect x="314" y="538" width="2" height="3"/><rect x="316" y="538" width="2" height="2"/><rect x="318" y="538" width="2" height="1"/><rect x="320" y="537" width="2" height="2"/><rect x="322" y="537" width="2" height="2"/><rect x="324" y="536" width="2" height="3"/><rect x="326" y="536" width="2" height="3"/><rect x="328" y="536" width="2" height="3"/><rect x="330" y="535" width="2" height="4"/><rect x="332" y="535" width="2" height="4"/><rect x="334" y="534" width="2" height="5"/><rect x="336" y="533" width="2" height="6"/><rect x="338" y="534" width="2" height="5"/><rect x="340" y="536" width="2" height="3"/><rect x="342" y="538" width="2" height="5"/><rect x="344" y="538" width="2" height="10"/><rect x="346" y="538" width="2" height="13"/><rect x="348" y="538" width="2" height="16"/><rect x="350" y="538" width="2" height="18"/><rect x="352" y="538" width="2" height="19"/><rect x="354" y="538" width="2" height="20"/><rect x="356" y="538" width="2" height="20"/><rect x="358" y="538" width="2" height="21"/><rect x="360" y="538" width="2" height="21"/><rect x="362" y="538" width="2" height="21"/><rect x="364" y="538" width="2" height="20"/><rect x="366" y="538" width="2" height="20"/><rect x="368" y="538" width="2" height="19"/><rect x="370" y="538" width="2" height="19"/><rect x="372" y="538" width="2" height="18"/><rect x="374" y="538" width="2" height="18"/><rect x="376" y="538" width="2" height="17"/><rect x="378" y="538" width="2" height="15"/><rect x="380" y="538" width="2" height="13"/><rect x="382" y="538" width="2" height="10"/><rect x="384" y="538" width="2" height="8"/><rect x="386" y="538" width="2" height="6"/><rect x="388" y="538" width="2" height="5"/><rect x="390" y="538" width="2" height="5"/><rect x="392" y="538" width="2" height="6"/><rect x="394" y="538" width="2" height="7"/><rect x="396" y="538" width="2" height="8"/><rect x="398" y="538" width="2" height="10"/><rect x="400" y="538" width="2" height="10"/><rect x="402" y="538" width="2" height="8"/><rect x="404" y="538" width="2" height="6"/><rect x="406" y="538" width="2" height="4"/><rect x="408" y="538" width="2" height="2"/><rect x="410" y="538" width="2" height="1"/><rect x="412" y="537" width="2" height="2"/><rect x="414" y="536" width="2" height="3"/><rect x="416" y="535" width="2" height="4"/><rect x="418" y="534" width="2" height="5"/><rect x="420" y="533" width="2" height="6"/><rect x="422" y="532" width="2" height="7"/><rect x="424" y="532" width="2" height="7"/><rect x="426" y="534" width="2" height="5"/><rect x="428" y="535" width="2" height="4"/><rect x="430" y="534" width="2" height="5"/><rect x="432" y="534" width="2" height="5"/><rect x="434" y="534" width="2" height="5"/><rect x="436" y="534" width="2" height="5"/><rect x="438" y="534" width="2" height="5"/><rect x="440" y="533" width="2" height="6"/><rect x="442" y="532" width="2" height="7"/><rect x="444" y="531" width="2" height="8"/><rect x="446" y="531" width="2" height="8"/><rect x="448" y="530" width="2" height="9"/><rect x="450" y="531" width="2" height="8"/><rect x="452" y="533" width="2" height="6"/><rect x="454" y="534" width="2" height="5"/><rect x="456" y="537" width="2" height="2"/><rect x="458" y="538" width="2" height="2"/><rect x="460" y="538" width="2" height="3"/><rect x="462" y="538" width="2" height="4"/><rect x="464" y="538" width="2" height="4"/><rect x="466" y="538" width="2" height="2"/><rect x="468" y="538" width="2" height="1"/><rect x="470" y="537" width="2" height="2"/><rect x="472" y="536" width="2" height="3"/><rect x="474" y="535" width="2" height="4"/><rect x="476" y="535" width="2" height="4"/><rect x="478" y="535" width="2" height="4"/><rect x="480" y="536" width="2" height="3"/><rect x="482" y="537" width="2" height="2"/><rect x="484" y="538" width="2" height="2"/><rect x="486" y="538" width="2" height="4"/><rect x="488" y="538" width="2" height="6"/><rect x="490" y="538" width="2" height="7"/><rect x="492" y="538" width="2" height="8"/><rect x="494" y="538" width="2" height="9"/><rect x="496" y="538" width="2" height="9"/><rect x="498" y="538" width="2" height="10"/><rect x="500" y="538" width="2" height="11"/><rect x="502" y="538" width="2" height="12"/><rect x="504" y="538" width="2" height="12"/><rect x="506" y="538" width="2" height="12"/><rect x="508" y="538" width="2" height="11"/><rect x="510" y="538" width="2" height="11"/><rect x="512" y="538" width="2" height="12"/><rect x="514" y="538" width="2" height="14"/><rect x="516" y="538" width="2" height="16"/><rect x="518" y="538" width="2" height="19"/><rect x="520" y="538" width="2" height="21"/><rect x="522" y="538" width="2" height="23"/><rect x="524" y="538" width="2" height="25"/><rect x="526" y="538" width="2" height="26"/><rect x="528" y="538" width="2" height="27"/><rect x="530" y="538" width="2" height="27"/><rect x="532" y="538" width="2" height="27"/><rect x="534" y="538" width="2" height="27"/><rect x="536" y="538" width="2" height="26"/><rect x="538" y="538" width="2" height="25"/><rect x="540" y="538" width="2" height="25"/><rect x="542" y="538" width="2" height="25"/><rect x="544" y="538" width="2" height="24"/><rect x="546" y="538" width="2" height="24"/><rect x="548" y="538" width="2" height="23"/><rect x="550" y="538" width="2" height="23"/><rect x="552" y="538" width="2" height="22"/><rect x="554" y="538" width="2" height="21"/><rect x="556" y="538" width="2" height="20"/><rect x="558" y="538" width="2" height="20"/><rect x="560" y="538" width="2" height="19"/><rect x="562" y="538" width="2" height="19"/><rect x="564" y="538" width="2" height="18"/><rect x="566" y="538" width="2" height="17"/><rect x="568" y="538" width="2" height="17"/><rect x="570" y="538" width="2" height="16"/><rect x="572" y="538" width="2" height="15"/><rect x="574" y="538" width="2" height="13"/><rect x="576" y="538" width="2" height="11"/><rect x="578" y="538" width="2" height="9"/><rect x="580" y="538" width="2" height="7"/><rect x="582" y="538" width="2" height="6"/><rect x="584" y="538" width="2" height="5"/><rect x="586" y="538" width="2" height="4"/><rect x="588" y="538" width="2" height="3"/><rect x="590" y="538" width="2" height="2"/><rect x="592" y="538" width="2" height="1"/><rect x="594" y="533" width="2" height="6"/><rect x="596" y="529" width="2" height="10"/><rect x="598" y="526" width="2" height="13"/><rect x="600" y="524" width="2" height="15"/><rect x="602" y="521" width="2" height="18"/><rect x="604" y="519" width="2" height="20"/><rect x="606" y="516" width="2" height="23"/><rect x="608" y="513" width="2" height="26"/><rect x="610" y="511" width="2" height="28"/><rect x="612" y="510" width="2" height="29"/><rect x="614" y="508" width="2" height="31"/><rect x="616" y="507" width="2" height="32"/><rect x="618" y="507" width="2" height="32"/><rect x="620" y="506" width="2" height="33"/><rect x="622" y="506" width="2" height="33"/><rect x="624" y="506" width="2" height="33"/><rect x="626" y="507" width="2" height="32"/><rect x="628" y="508" width="2" height="31"/><rect x="630" y="509" width="2" height="30"/><rect x="632" y="511" width="2" height="28"/><rect x="634" y="513" width="2" height="26"/><rect x="636" y="515" width="2" height="24"/><rect x="638" y="516" width="2" height="23"/><rect x="640" y="517" width="2" height="22"/><rect x="642" y="518" width="2" height="21"/><rect x="644" y="518" width="2" height="21"/><rect x="646" y="519" width="2" height="20"/><rect x="648" y="520" width="2" height="19"/><rect x="650" y="521" width="2" height="18"/><rect x="652" y="522" width="2" height="17"/><rect x="654" y="524" width="2" height="15"/><rect x="656" y="529" width="2" height="10"/><rect x="658" y="534" width="2" height="5"/><rect x="660" y="538" width="2" height="2"/><rect x="662" y="538" width="2" height="4"/><rect x="664" y="538" width="2" height="7"/><rect x="666" y="538" width="2" height="11"/><rect x="668" y="538" width="2" height="14"/><rect x="670" y="538" width="2" height="15"/><rect x="672" y="538" width="2" height="16"/><rect x="674" y="538" width="2" height="17"/><rect x="676" y="538" width="2" height="17"/><rect x="678" y="538" width="2" height="18"/><rect x="680" y="538" width="2" height="17"/><rect x="682" y="538" width="2" height="16"/><rect x="684" y="538" width="2" height="15"/><rect x="686" y="538" width="2" height="13"/><rect x="688" y="538" width="2" height="11"/><rect x="690" y="538" width="2" height="9"/><rect x="692" y="538" width="2" height="6"/><rect x="694" y="538" width="2" height="3"/><rect x="696" y="538" width="2" height="1"/><rect x="698" y="537" width="2" height="2"/><rect x="700" y="536" width="2" height="3"/><rect x="702" y="536" width="2" height="3"/><rect x="704" y="535" width="2" height="4"/><rect x="706" y="535" width="2" height="4"/><rect x="708" y="535" width="2" height="4"/><rect x="710" y="535" width="2" height="4"/><rect x="712" y="535" width="2" height="4"/><rect x="714" y="536" width="2" height="3"/><rect x="716" y="536" width="2" height="3"/><rect x="718" y="536" width="2" height="3"/><rect x="720" y="537" width="2" height="2"/><rect x="722" y="537" width="2" height="2"/><rect x="724" y="538" width="2" height="1"/><rect x="726" y="538" width="2" height="4"/><rect x="728" y="538" width="2" height="6"/><rect x="730" y="538" width="2" height="7"/><rect x="732" y="538" width="2" height="8"/><rect x="734" y="538" width="2" height="9"/><rect x="736" y="538" width="2" height="10"/><rect x="738" y="538" width="2" height="10"/><rect x="740" y="538" width="2" height="10"/><rect x="742" y="538" width="2" height="10"/><rect x="744" y="538" width="2" height="9"/><rect x="746" y="538" width="2" height="8"/><rect x="748" y="538" width="2" height="7"/><rect x="750" y="538" width="2" height="7"/><rect x="752" y="538" width="2" height="7"/><rect x="754" y="538" width="2" height="6"/><rect x="756" y="538" width="2" height="5"/><rect x="758" y="538" width="2" height="4"/><rect x="760" y="538" width="2" height="2"/><rect x="762" y="537" width="2" height="2"/><rect x="764" y="536" width="2" height="3"/><rect x="766" y="535" width="2" height="4"/><rect x="768" y="534" width="2" height="5"/><rect x="770" y="534" width="2" height="5"/><rect x="772" y="534" width="2" height="5"/><rect x="774" y="535" width="2" height="4"/><rect x="776" y="537" width="2" height="2"/><rect x="778" y="538" width="2" height="5"/><rect x="780" y="538" width="2" height="6"/><rect x="782" y="538" width="2" height="7"/><rect x="784" y="538" width="2" height="6"/><rect x="786" y="538" width="2" height="4"/><rect x="788" y="538" width="2" height="2"/><rect x="790" y="538" width="2" height="1"/><rect x="792" y="537" width="2" height="2"/><rect x="794" y="537" width="2" height="2"/><rect x="796" y="538" width="2" height="1"/><rect x="798" y="538" width="2" height="2"/><rect x="800" y="538" width="2" height="1"/><rect x="802" y="537" width="2" height="2"/><rect x="804" y="536" width="2" height="3"/><rect x="806" y="535" width="2" height="4"/><rect x="808" y="535" width="2" height="4"/><rect x="810" y="536" width="2" height="3"/><rect x="812" y="537" width="2" height="2"/><rect x="814" y="537" width="2" height="2"/><rect x="816" y="537" width="2" height="2"/><rect x="818" y="537" width="2" height="2"/><rect x="820" y="537" width="2" height="2"/><rect x="822" y="538" width="2" height="1"/><rect x="824" y="538" width="2" height="1"/><rect x="826" y="538" width="2" height="1"/><rect x="828" y="538" width="2" height="2"/><rect x="830" y="538" width="2" height="3"/><rect x="832" y="538" width="2" height="4"/><rect x="834" y="538" width="2" height="5"/><rect x="836" y="538" width="2" height="5"/><rect x="838" y="538" width="2" height="5"/><rect x="840" y="538" width="2" height="4"/><rect x="842" y="538" width="2" height="3"/><rect x="844" y="538" width="2" height="2"/><rect x="846" y="538" width="2" height="2"/><rect x="848" y="538" width="2" height="1"/><rect x="850" y="538" width="2" height="1"/><rect x="852" y="538" width="2" height="1"/><rect x="854" y="538" width="2" height="1"/><rect x="856" y="538" width="2" height="1"/><rect x="858" y="537" width="2" height="2"/><rect x="860" y="535" width="2" height="4"/><rect x="862" y="533" width="2" height="6"/><rect x="864" y="531" width="2" height="8"/><rect x="866" y="529" width="2" height="10"/><rect x="868" y="527" width="2" height="12"/><rect x="870" y="526" width="2" height="13"/><rect x="872" y="525" width="2" height="14"/><rect x="874" y="524" width="2" height="15"/><rect x="876" y="524" width="2" height="15"/><rect x="878" y="525" width="2" height="14"/><rect x="880" y="527" width="2" height="12"/><rect x="882" y="529" width="2" height="10"/><rect x="884" y="531" width="2" height="8"/><rect x="886" y="533" width="2" height="6"/><rect x="888" y="535" width="2" height="4"/><rect x="890" y="537" width="2" height="2"/><rect x="892" y="537" width="2" height="2"/><rect x="894" y="538" width="2" height="1"/><rect x="896" y="538" width="2" height="1"/><rect x="898" y="538" width="2" height="1"/><rect x="900" y="538" width="2" height="1"/><rect x="902" y="538" width="2" height="1"/><rect x="904" y="532" width="2" height="7"/><rect x="906" y="531" width="2" height="8"/><rect x="908" y="530" width="2" height="9"/><rect x="910" y="530" width="2" height="9"/><rect x="912" y="530" width="2" height="9"/><rect x="914" y="529" width="2" height="10"/><rect x="916" y="530" width="2" height="9"/><rect x="918" y="531" width="2" height="8"/><rect x="920" y="532" width="2" height="7"/><rect x="922" y="532" width="2" height="7"/><rect x="924" y="533" width="2" height="6"/><rect x="926" y="534" width="2" height="5"/></g>
<path d="M2 537v1M3 537v1M4 536v1M5 536v1M6 536v1M7 536v1M8 535v1M9 535v1M10 535v1M11 535v1M12 535v1M13 535v1M14 536v1M15 536v1M16 536v1M17 536v1M18 536v1M19 536v1M20 536v1M21 536v1M22 537v1M23 537v1M24 537v1M25 537v1M26 538v1M27 538v1M28 538v1M29 538v1M30 539v1M31 539v1M32 539v1M33 539v1M34 540v1M35 540v1M36 539v1M37 539v1M38 539v1M39 539v1M40 539v1M41 539v1M42 538v1M43 538v1M44 537v1M45 537v1M46 536v1M47 536v1M48 535v1M49 535v1M50 534v1M51 534v1M52 533v1M53 532v1M54 531v1M55 531v1M56 530v1M57 530v1M58 530v1M59 530v1M60 530v1M61 530v1M62 530v1M63 530v1M64 531v1M65 531v1M66 532v1M67 533v1M68 534v1M69 534v1M70 535v1M71 536v1M72 537v1M73 537v1M74 538v1M75 538v1M76 539v1M77 539v1M78 540v1M79 540v1M80 541v1M81 541v1M82 542v1M83 542v1M84 543v1M85 543v1M86 544v1M87 544v1M88 545v1M89 545v1M90 546v1M91 546v1M92 547v1M93 547v1M94 547v1M95 547v1M96 548v1M97 548v1M98 548v1M99 548v1M100 548v1M101 548v1M102 548v1M103 548v1M104 548v1M105 548v1M106 548v1M107 548v1M108 548v1M109 548v1M110 548v1M111 548v1M112 548v1M113 548v1M114 547v1M115 547v1M116 546v1M117 546v1M118 545v1M119 545v1M120 544v1M121 544v1M122 543v1M123 543v1M124 542v1M125 542v1M126 541v1M127 541v1M128 540v1M129 540v1M130 539v1M131 539v1M132 538v1M133 537v1M134 536v1M135 536v1M136 536v1M137 536v1M138 535v1M139 535v1M140 535v1M141 535v1M142 534v1M143 534v1M144 534v1M145 534v1M146 534v1M147 534v1M148 534v1M149 534v1M150 534v1M151 534v1M152 535v1M153 535v1M154 535v1M155 534v1M156 533v1M157 533v1M158 532v1M159 532v1M160 531v1M161 529v2M162 527v2M163 525v2M164 522v3M165 520v2M166 517v3M167 516v1M168 514v2M169 512v2M170 510v2M171 509v1M172 506v3M173 505v1M174 503v2M175 501v2M176 500v1M177 499v1M178 498v1M179 497v1M180 496v1M181 495v1M182 494v1M183 493v1M184 492v1M185 492v1M186 492v1M187 492v1M188 492v1M189 492v1M190 492v1M191 493v1M192 494v1M193 495v1M194 496v1M195 497v1M196 498v1M197 499v1M198 500v1M199 501v1M200 502v1M201 503v1M202 504v1M203 505v1M204 506v1M205 507v1M206 508v1M207 509v1M208 510v1M209 511v1M210 512v1M211 513v1M212 514v1M213 515v1M214 516v1M215 517v2M216 519v1M217 520v1M218 521v1M219 521v1M220 522v1M221 523v1M222 524v1M223 524v1M224 525v1M225 526v1M226 527v1M227 527v1M228 528v1M229 528v1M230 529v1M231 529v1M232 529v1M233 529v1M234 530v1M235 531v1M236 532v1M237 532v1M238 533v1M239 533v1M240 534v1M241 534v1M242 535v1M243 535v1M244 535v1M245 535v1M246 536v1M247 536v1M248 536v1M249 536v1M250 536v1M251 536v1M252 536v1M253 536v1M254 535v1M255 535v1M256 534v1M257 534v1M258 534v1M259 534v1M260 533v1M261 533v1M262 533v1M263 533v1M264 532v1M265 532v1M266 532v1M267 532v1M268 531v1M269 531v1M270 531v1M271 531v1M272 530v1M273 530v1M274 529v1M275 529v1M276 528v1M277 528v1M278 527v1M279 527v1M280 526v1M281 526v1M282 525v1M283 525v1M284 525v1M285 525v1M286 524v1M287 524v1M288 523v1M289 523v1M290 523v1M291 523v1M292 523v1M293 523v1M294 523v1M295 523v1M296 523v1M297 523v1M298 524v1M299 524v1M300 525v1M301 525v1M302 526v1M303 527v1M304 528v1M305 528v1M306 529v1M307 530v1M308 531v1M309 531v1M310 532v1M311 533v1M312 534v1M313 535v1M314 536v1M315 536v1M316 537v1M317 537v1M318 538v1M319 538v1M320 538v1M321 538v1M322 538v1M323 538v1M324 538v1M325 538v1M326 538v1M327 538v1M328 537v1M329 537v1M330 537v1M331 537v1M332 536v1M333 536v1M334 536v1M335 536v1M336 535v1M337 535v1M338 535v1M339 535v1M340 536v1M341 536v1M342 536v1M343 537v1M344 538v1M345 539v1M346 540v1M347 541v1M348 542v1M349 543v1M350 544v1M351 545v1M352 546v1M353 547v2M354 549v1M355 550v1M356 551v1M357 552v1M358 553v1M359 553v1M360 554v1M361 554v1M362 555v1M363 555v1M364 556v1M365 556v1M366 556v1M367 556v1M368 556v1M369 556v1M370 556v1M371 556v1M372 556v1M373 556v1M374 556v1M375 556v1M376 555v1M377 555v1M378 554v1M379 554v1M380 553v1M381 553v1M382 552v1M383 552v1M384 551v1M385 551v1M386 550v1M387 549v1M388 548v1M389 548v1M390 547v1M391 546v1M392 545v1M393 545v1M394 544v1M395 544v1M396 544v1M397 544v1M398 543v1M399 543v1M400 543v1M401 543v1M402 544v1M403 544v1M404 544v1M405 544v1M406 544v1M407 544v1M408 543v1M409 543v1M410 543v1M411 543v1M412 542v1M413 542v1M414 541v1M415 541v1M416 540v1M417 540v1M418 539v1M419 539v1M420 538v1M421 538v1M422 537v1M423 537v1M424 536v1M425 536v1M426 535v1M427 535v1M428 535v1M429 535v1M430 535v1M431 535v1M432 535v1M433 535v1M434 535v1M435 535v1M436 535v1M437 535v1M438 535v1M439 535v1M440 534v1M441 534v1M442 534v1M443 534v1M444 534v1M445 534v1M446 533v1M447 533v1M448 533v1M449 533v1M450 532v1M451 532v1M452 532v1M453 532v1M454 532v1M455 532v1M456 532v1M457 532v1M458 532v1M459 532v1M460 533v1M461 533v1M462 534v1M463 535v1M464 536v1M465 536v1M466 537v1M467 537v1M468 538v1M469 538v1M470 538v1M471 538v1M472 537v1M473 537v1M474 537v1M475 537v1M476 537v1M477 537v1M478 537v1M479 537v1M480 537v1M481 537v1M482 537v1M483 537v1M484 537v1M485 537v1M486 537v1M487 537v1M488 537v1M489 537v1M490 538v1M491 538v1M492 539v1M493 539v1M494 540v1M495 540v1M496 541v1M497 541v1M498 542v1M499 542v1M500 543v1M501 543v1M502 544v1M503 544v1M504 545v1M505 545v1M506 546v1M507 546v1M508 547v1M509 547v1M510 547v1M511 547v1M512 547v1M513 547v1M514 548v1M515 548v1M516 549v1M517 549v1M518 550v1M519 550v1M520 551v1M521 551v1M522 552v1M523 552v1M524 553v1M525 554v1M526 555v1M527 555v1M528 556v1M529 557v1M530 558v1M531 559v1M532 560v1M533 560v1M534 561v1M535 561v1M536 562v1M537 562v1M538 562v1M539 562v1M540 563v1M541 563v1M542 563v1M543 563v1M544 562v1M545 562v1M546 562v1M547 562v1M548 562v1M549 562v1M550 561v1M551 561v1M552 561v1M553 561v1M554 560v1M555 560v1M556 559v1M557 559v1M558 559v1M559 559v1M560 558v1M561 558v1M562 558v1M563 558v1M564 557v1M565 557v1M566 557v1M567 557v1M568 556v1M569 556v1M570 555v1M571 555v1M572 554v1M573 554v1M574 553v1M575 553v1M576 552v1M577 552v1M578 551v1M579 551v1M580 550v1M581 550v1M582 549v1M583 549v1M584 548v1M585 547v1M586 546v1M587 546v1M588 545v1M589 544v1M590 543v1M591 543v1M592 542v1M593 541v1M594 540v1M595 540v1M596 539v1M597 538v1M598 537v1M599 536v1M600 535v1M601 534v1M602 533v1M603 531v2M604 530v1M605 529v1M606 528v1M607 526v2M608 525v1M609 524v1M610 523v1M611 522v1M612 521v1M613 519v2M614 518v1M615 517v1M616 516v1M617 515v1M618 514v1M619 513v1M620 512v1M621 511v1M622 510v1M623 510v1M624 509v1M625 509v1M626 509v1M627 509v1M628 508v1M629 508v1M630 508v1M631 508v1M632 508v1M633 508v1M634 508v1M635 508v1M636 508v1M637 509v1M638 510v1M639 510v1M640 511v1M641 511v1M642 512v1M643 512v1M644 513v1M645 513v1M646 514v1M647 515v1M648 516v1M649 516v1M650 517v1M651 517v1M652 518v1M653 518v1M654 519v1M655 520v1M656 521v1M657 522v1M658 523v1M659 524v1M660 525v1M661 526v1M662 527v1M663 528v2M664 530v1M665 531v1M666 532v2M667 534v1M668 535v3M669 538v1M670 539v2M671 541v1M672 542v1M673 543v2M674 545v1M675 546v2M676 548v1M677 548v1M678 549v1M679 550v1M680 551v1M681 551v1M682 552v1M683 552v1M684 552v1M685 552v1M686 552v1M687 552v1M688 552v1M689 552v1M690 551v1M691 551v1M692 550v1M693 550v1M694 549v1M695 549v1M696 548v1M697 548v1M698 547v1M699 546v1M700 545v1M701 544v1M702 543v1M703 542v1M704 541v1M705 541v1M706 540v1M707 540v1M708 539v1M709 539v1M710 538v1M711 538v1M712 537v1M713 537v1M714 536v1M715 536v1M716 536v1M717 536v1M718 536v1M719 536v1M720 536v1M721 536v1M722 536v1M723 536v1M724 536v1M725 536v1M726 537v1M727 537v1M728 538v1M729 538v1M730 538v1M731 538v1M732 539v1M733 540v1M734 541v1M735 541v1M736 542v1M737 542v1M738 543v1M739 543v1M740 544v1M741 544v1M742 545v1M743 545v1M744 546v1M745 546v1M746 546v1M747 546v1M748 546v1M749 546v1M750 547v1M751 547v1M752 546v1M753 546v1M754 546v1M755 546v1M756 545v1M757 545v1M758 545v1M759 545v1M760 544v1M761 544v1M762 543v1M763 543v1M764 542v1M765 542v1M766 541v1M767 541v1M768 540v1M769 540v1M770 539v1M771 538v1M772 537v1M773 537v1M774 536v1M775 536v1M776 536v1M777 536v1M778 536v1M779 536v1M780 537v1M781 537v1M782 537v1M783 537v1M784 538v1M785 538v1M786 539v1M787 539v1M788 540v1M789 540v1M790 540v1M791 540v1M792 540v1M793 540v1M794 540v1M795 540v1M796 540v1M797 540v1M798 540v1M799 540v1M800 539v1M801 539v1M802 539v1M803 539v1M804 538v1M805 538v1M806 538v1M807 538v1M808 538v1M809 538v1M810 538v1M811 538v1M812 537v1M813 537v1M814 537v1M815 537v1M816 537v1M817 537v1M818 537v1M819 537v1M820 537v1M821 537v1M822 537v1M823 537v1M824 537v1M825 537v1M826 537v1M827 537v1M828 537v1M829 537v1M830 538v1M831 538v1M832 538v1M833 538v1M834 539v1M835 539v1M836 539v1M837 539v1M838 540v1M839 540v1M840 540v1M841 540v1M842 541v1M843 541v1M844 541v1M845 541v1M846 541v1M847 541v1M848 541v1M849 541v1M850 541v1M851 541v1M852 540v1M853 540v1M854 540v1M855 540v1M856 540v1M857 540v1M858 539v1M859 539v1M860 539v1M861 539v1M862 538v1M863 538v1M864 537v1M865 537v1M866 536v1M867 536v1M868 535v1M869 535v1M870 534v1M871 533v1M872 532v1M873 532v1M874 531v1M875 530v1M876 529v1M877 529v1M878 528v1M879 528v1M880 527v1M881 527v1M882 526v1M883 526v1M884 526v1M885 526v1M886 527v1M887 527v1M888 528v1M889 528v1M890 529v1M891 529v1M892 530v1M893 530v1M894 531v1M895 532v1M896 533v1M897 533v1M898 534v1M899 534v1M900 535v1M901 535v1M902 536v1M903 536v1M904 536v1M905 536v1M906 536v1M907 536v1M908 536v1M909 535v1M910 534v1M911 534v1M912 533v1M913 533v1M914 532v1M915 532v1M916 532v1M917 532v1M918 531v1M919 531v1M920 530v1M921 530v1M922 530v1M923 530v1M924 530v1M925 530v1M926 530v1" stroke="#ff0000" stroke-width="1" fill="none" transform="translate(0.5,0)"/>
<path d="M3 597.5 H1164" stroke="#c0c0c0" stroke-width="1" stroke-dasharray="3 3" fill="none"/>
<path d="M3 631.5 H1164" stroke="#c0c0c0" stroke-width="1" stroke-dasharray="3 3" fill="none"/>
<path d="M2 609v1M3 610v1M4 611v1M5 611v1M6 612v1M7 613v1M8 614v1M9 614v1M10 614v1M11 614v1M12 613v1M13 612v1M14 611v1M15 612v2M16 614v1M17 615v1M18 616v3M19 619v3M20 622v3M21 621v2M22 619v2M23 618v1M24 617v1M25 617v1M26 614v3M27 610v4M28 607v3M29 609v3M30 612v2M31 613v1M32 614v1M33 614v1M34 615v1M35 615v1M36 614v1M37 613v1M38 612v1M39 612v1M40 609v3M41 605v4M42 602v3M43 600v2M44 599v2M45 601v1M46 602v2M47 603v1M48 602v1M49 602v1M50 601v2M51 603v2M52 605v5M53 610v5M54 615v4M55 618v1M56 617v1M57 617v1M58 617v1M59 617v1M60 616v1M61 615v1M62 614v1M63 615v1M64 616v1M65 617v1M66 618v1M67 619v2M68 621v1M69 621v1M70 620v1M71 620v1M72 620v1M73 619v1M74 618v1M75 619v1M76 620v1M77 620v1M78 621v1M79 621v1M80 622v1M81 622v1M82 622v1M83 622v1M84 621v1M85 621v1M86 621v2M87 623v1M88 624v3M89 627v2M90 629v2M91 627v2M92 624v3M93 622v2M94 620v2M95 620v1M96 619v1M97 619v1M98 618v1M99 618v1M100 617v1M101 618v2M102 620v1M103 621v1M104 622v1M105 622v1M106 621v1M107 622v2M108 624v1M109 624v1M110 623v2M111 620v3M112 617v3M113 615v2M114 612v3M115 608v4M116 606v2M117 606v1M118 607v1M119 607v1M120 608v1M121 608v1M122 608v1M123 609v2M124 611v1M125 611v1M126 610v1M127 609v1M128 608v1M129 608v1M130 607v1M131 606v1M132 605v1M133 606v2M134 608v1M135 609v1M136 610v1M137 610v1M138 610v1M139 610v1M140 611v1M141 612v1M142 613v1M143 613v1M144 613v1M145 613v1M146 613v1M147 611v2M148 610v1M149 608v2M150 607v2M151 609v2M152 607v6M153 598v9M154 592v6M155 592v1M156 592v1M157 592v1M158 591v2M159 589v2M160 587v2M161 587v1M162 586v1M163 585v1M164 584v1M165 584v1M166 585v1M167 585v1M168 585v1M169 585v1M170 586v1M171 585v1M172 584v1M173 584v1M174 583v1M175 583v1M176 584v1M177 584v1M178 584v1M179 584v1M180 585v1M181 585v1M182 585v2M183 587v2M184 589v4M185 593v4M186 597v3M187 599v1M188 600v1M189 601v1M190 602v1M191 601v1M192 600v1M193 599v1M194 598v1M195 597v1M196 596v2M197 598v2M198 600v2M199 602v2M200 604v1M201 605v2M202 607v1M203 606v1M204 605v1M205 606v1M206 607v1M207 608v1M208 609v2M209 611v4M210 615v2M211 614v2M212 613v1M213 611v2M214 610v1M215 610v1M216 609v1M217 608v1M218 607v1M219 608v2M220 610v1M221 611v1M222 612v1M223 611v1M224 610v1M225 611v1M226 612v1M227 613v1M228 614v1M229 614v1M230 613v2M231 615v1M232 616v3M233 619v2M234 621v2M235 619v2M236 616v3M237 615v1M238 613v2M239 612v1M240 611v1M241 611v1M242 611v1M243 611v1M244 612v1M245 610v2M246 609v1M247 610v1M248 611v1M249 610v1M250 609v1M251 608v1M252 607v1M253 607v1M254 608v1M255 607v1M256 606v1M257 605v1M258 604v2M259 606v2M260 608v2M261 609v1M262 608v1M263 608v1M264 607v1M265 605v2M266 604v1M267 603v1M268 602v1M269 601v1M270 600v1M271 598v2M272 597v1M273 597v1M274 597v1M275 597v1M276 596v1M277 596v1M278 595v1M279 596v2M280 598v2M281 600v4M282 604v2M283 604v1M284 603v1M285 601v2M286 600v1M287 600v1M288 600v1M289 600v1M290 599v1M291 599v1M292 599v4M293 603v5M294 608v5M295 613v2M296 615v3M297 618v2M298 620v2M299 619v2M300 618v1M301 616v2M302 615v2M303 617v2M304 619v2M305 619v1M306 618v1M307 617v1M308 616v1M309 616v1M310 616v1M311 616v1M312 616v2M313 618v2M314 619v3M315 614v5M316 611v3M317 611v1M318 610v1M319 610v1M320 609v1M321 609v1M322 608v1M323 609v1M324 610v1M325 611v1M326 612v1M327 613v1M328 614v1M329 612v2M330 611v1M331 609v2M332 608v1M333 607v1M334 606v1M335 606v1M336 605v3M337 608v3M338 611v6M339 617v5M340 622v5M341 627v3M342 630v2M343 631v1M344 631v1M345 631v1M346 631v1M347 631v1M348 630v1M349 630v1M350 629v1M351 630v1M352 631v1M353 630v1M354 629v1M355 628v1M356 627v1M357 628v1M358 629v1M359 629v1M360 628v1M361 628v1M362 626v2M363 624v2M364 622v2M365 623v1M366 624v1M367 624v1M368 623v1M369 623v1M370 623v1M371 624v1M372 625v1M373 623v2M374 622v1M375 621v1M376 619v2M377 618v1M378 616v2M379 617v1M380 616v3M381 613v3M382 610v3M383 610v1M384 611v1M385 611v1M386 612v1M387 611v1M388 610v3M389 613v3M390 616v3M391 619v1M392 620v1M393 621v1M394 622v1M395 622v1M396 621v1M397 622v2M398 624v1M399 625v2M400 624v4M401 618v6M402 613v5M403 611v2M404 609v2M405 610v2M406 612v1M407 611v1M408 610v1M409 610v1M410 611v1M411 611v1M412 610v1M413 610v1M414 609v1M415 609v1M416 608v1M417 608v1M418 607v1M419 608v1M420 609v1M421 607v2M422 606v1M423 605v1M424 604v3M425 607v6M426 613v3M427 615v1M428 615v1M429 615v1M430 615v1M431 614v1M432 613v1M433 612v1M434 611v2M435 613v3M436 614v4M437 608v6M438 604v4M439 604v1M440 605v1M441 605v1M442 606v1M443 606v1M444 607v1M445 607v1M446 606v1M447 606v1M448 605v3M449 608v3M450 611v3M451 614v2M452 616v2M453 618v1M454 619v2M455 620v1M456 620v1M457 620v1M458 619v1M459 619v1M460 619v1M461 620v2M462 620v3M463 614v6M464 611v3M465 612v1M466 613v1M467 612v1M468 611v1M469 611v1M470 610v1M471 609v1M472 608v1M473 608v1M474 608v1M475 608v1M476 607v2M477 609v1M478 610v3M479 613v1M480 614v2M481 615v1M482 616v1M483 617v2M484 619v2M485 621v1M486 622v2M487 623v1M488 624v1M489 625v1M490 626v1M491 626v1M492 625v2M493 622v3M494 619v3M495 617v2M496 615v2M497 617v4M498 621v3M499 624v2M500 626v2M501 626v1M502 625v1M503 624v1M504 623v1M505 623v1M506 622v1M507 622v1M508 620v2M509 619v1M510 617v3M511 620v5M512 625v3M513 628v2M514 630v1M515 630v1M516 631v1M517 631v1M518 632v1M519 632v1M520 633v1M521 634v1M522 635v1M523 635v1M524 636v1M525 636v1M526 636v1M527 634v2M528 633v1M529 632v1M530 631v1M531 632v2M532 634v1M533 632v2M534 631v1M535 631v1M536 630v1M537 630v1M538 629v1M539 629v1M540 630v1M541 630v1M542 630v1M543 630v1M544 631v1M545 632v1M546 632v2M547 631v1M548 629v2M549 629v1M550 629v1M551 629v1M552 628v1M553 628v1M554 627v1M555 628v1M556 629v1M557 630v2M558 631v2M559 628v3M560 626v2M561 626v1M562 627v1M563 628v1M564 629v1M565 629v1M566 628v2M567 625v3M568 623v2M569 625v4M570 627v4M571 620v7M572 616v4M573 615v1M574 614v1M575 613v1M576 612v1M577 611v1M578 610v1M579 610v1M580 611v1M581 611v1M582 612v1M583 612v1M584 611v1M585 612v2M586 614v1M587 613v1M588 612v1M589 611v1M590 610v1M591 608v2M592 604v4M593 599v5M594 595v4M595 594v1M596 593v1M597 592v1M598 591v1M599 591v1M600 591v1M601 591v1M602 592v1M603 590v2M604 589v1M605 588v1M606 587v1M607 587v1M608 588v1M609 587v1M610 586v1M611 586v1M612 587v1M613 587v1M614 588v1M615 588v1M616 587v1M617 587v1M618 586v1M619 586v1M620 585v1M621 585v1M622 586v1M623 586v1M624 586v1M625 587v1M626 588v1M627 587v1M628 586v3M629 589v5M630 594v3M631 596v1M632 597v1M633 597v1M634 598v1M635 598v1M636 599v1M637 599v1M638 599v1M639 599v1M640 598v1M641 597v1M642 596v1M643 596v1M644 595v1M645 595v1M646 594v1M647 595v1M648 596v1M649 596v1M650 597v3M651 600v4M652 604v6M653 610v7M654 617v4M655 621v2M656 623v2M657 625v1M658 626v2M659 628v1M660 628v2M661 627v1M662 625v2M663 627v1M664 628v3M665 631v2M666 633v2M667 632v1M668 630v2M669 630v1M670 629v1M671 628v1M672 627v1M673 627v1M674 626v1M675 627v2M676 629v1M677 629v1M678 626v3M679 622v4M680 619v3M681 619v1M682 618v1M683 618v1M684 618v1M685 618v1M686 619v1M687 619v1M688 618v3M689 615v3M690 611v4M691 609v2M692 607v2M693 609v2M694 611v2M695 607v4M696 605v2M697 605v1M698 606v3M699 609v4M700 613v3M701 613v2M702 612v1M703 611v1M704 610v1M705 610v1M706 609v1M707 610v2M708 612v1M709 613v2M710 615v1M711 613v2M712 612v1M713 612v1M714 612v1M715 612v1M716 611v1M717 612v2M718 614v1M719 615v1M720 616v1M721 616v1M722 616v1M723 616v1M724 616v2M725 618v4M726 622v2M727 623v1M728 622v1M729 623v1M730 624v1M731 624v1M732 623v1M733 622v1M734 621v1M735 622v1M736 623v1M737 623v1M738 623v1M739 623v1M740 623v1M741 622v1M742 620v2M743 617v3M744 615v2M745 615v1M746 616v1M747 617v1M748 618v1M749 618v1M750 618v1M751 618v1M752 618v1M753 618v1M754 618v1M755 617v1M756 616v1M757 616v1M758 614v2M759 612v2M760 608v4M761 604v4M762 601v3M763 603v2M764 605v2M765 606v1M766 605v1M767 606v1M768 607v1M769 608v2M770 610v1M771 610v1M772 609v2M773 611v2M774 613v4M775 617v4M776 621v3M777 624v1M778 625v1M779 626v1M780 626v2M781 624v2M782 621v3M783 619v2M784 616v3M785 615v1M786 613v2M787 611v2M788 610v1M789 609v1M790 608v1M791 609v1M792 610v1M793 611v2M794 613v2M795 615v1M796 616v2M797 618v2M798 618v3M799 615v3M800 612v3M801 612v1M802 613v1M803 611v2M804 609v2M805 608v1M806 606v2M807 608v1M808 609v3M809 612v1M810 613v2M811 615v2M812 617v1M813 615v2M814 614v1M815 614v1M816 614v1M817 614v1M818 615v1M819 615v1M820 614v1M821 614v1M822 613v1M823 613v1M824 612v1M825 613v2M826 615v1M827 616v2M828 618v1M829 619v1M830 620v1M831 618v2M832 617v1M833 618v2M834 620v1M835 619v1M836 618v1M837 619v2M838 620v2M839 619v1M840 617v2M841 615v2M842 614v1M843 613v1M844 612v1M845 610v2M846 609v1M847 610v1M848 611v1M849 612v1M850 613v2M851 615v3M852 618v2M853 617v2M854 616v1M855 616v1M856 615v2M857 612v3M858 609v3M859 607v2M860 604v3M861 601v3M862 599v2M863 600v2M864 602v1M865 602v1M866 601v1M867 600v1M868 599v1M869 597v2M870 596v1M871 596v1M872 596v1M873 596v1M874 596v2M875 598v1M876 599v2M877 601v2M878 603v2M879 605v4M880 609v2M881 610v1M882 611v2M883 613v1M884 614v3M885 617v2M886 619v2M887 620v1M888 620v1M889 620v1M890 619v1M891 619v1M892 619v2M893 616v3M894 614v2M895 614v1M896 614v1M897 614v1M898 613v1M899 611v2M900 610v1M901 608v2M902 605v3M903 599v6M904 596v3M905 599v5M906 604v3M907 606v1M908 606v1M909 606v1M910 605v1M911 604v1M912 603v2M913 605v1M914 606v2M915 607v1M916 606v2M917 608v3M918 611v2M919 613v2M920 615v1M921 615v1M922 614v1M923 613v1M924 612v1M925 612v1M926 612v1" stroke="#1e90ff" stroke-width="1" fill="none" transform="translate(0.5,0)"/>
<rect x="1" y="22" width="1164" height="1" fill="#000"/>
<rect x="1" y="22" width="1" height="461" fill="#000"/>
<rect x="1" y="482" width="1164" height="1" fill="#000"/>
<rect x="1164" y="22" width="1" height="461" fill="#000"/>
<rect x="1" y="484" width="1164" height="1" fill="#000"/>
<rect x="1" y="484" width="1" height="85" fill="#000"/>
<rect x="1" y="568" width="1164" height="1" fill="#000"/>
<rect x="1164" y="484" width="1" height="85" fill="#000"/>
<rect x="1" y="570" width="1164" height="1" fill="#000"/>
<rect x="1" y="570" width="1" height="88" fill="#000"/>
<rect x="1" y="657" width="1164" height="1" fill="#000"/>
<rect x="1164" y="570" width="1" height="88" fill="#000"/>
<rect x="1164" y="49" width="1" height="2" fill="#ff0000"/>
<rect x="1164" y="152" width="1" height="2" fill="#ff0000"/>
<rect x="1164" y="231" width="1" height="2" fill="#00ff00"/>
<rect x="1164" y="329" width="1" height="2" fill="#0000ff"/>
<rect x="1164" y="427" width="1" height="2" fill="#0000ff"/>
<rect x="1165" y="83" width="2" height="1" fill="#000"/>
<rect x="1165" y="116" width="2" height="1" fill="#000"/>
<rect x="1165" y="149" width="2" height="1" fill="#000"/>
<rect x="1165" y="182" width="2" height="1" fill="#000"/>
<rect x="1165" y="215" width="2" height="1" fill="#000"/>
<rect x="1165" y="248" width="2" height="1" fill="#000"/>
<rect x="1165" y="281" width="2" height="1" fill="#000"/>
<rect x="1165" y="314" width="2" height="1" fill="#000"/>
<rect x="1165" y="347" width="2" height="1" fill="#000"/>
<rect x="1165" y="380" width="2" height="1" fill="#000"/>
<rect x="1165" y="413" width="2" height="1" fill="#000"/>
<rect x="1165" y="446" width="2" height="1" fill="#000"/>
<rect x="1165" y="479" width="2" height="1" fill="#000"/>
<rect x="1165" y="50" width="1" height="1" fill="#000"/>
<rect x="1165" y="486" width="1" height="1" fill="#000"/>
<rect x="1165" y="539" width="1" height="1" fill="#000"/>
<rect x="1165" y="567" width="1" height="1" fill="#000"/>
<rect x="1165" y="572" width="1" height="1" fill="#000"/>
<rect x="1165" y="656" width="1" height="1" fill="#000"/>
<rect x="2" y="658" width="1" height="3" fill="#000"/>
<rect x="66" y="658" width="1" height="3" fill="#000"/>
<rect x="130" y="658" width="1" height="3" fill="#000"/>
<rect x="194" y="658" width="1" height="3" fill="#000"/>
<rect x="258" y="658" width="1" height="3" fill="#000"/>
<rect x="322" y="658" width="1" height="3" fill="#000"/>
<rect x="386" y="658" width="1" height="3" fill="#000"/>
<rect x="450" y="658" width="1" height="3" fill="#000"/>
<rect x="514" y="658" width="1" height="3" fill="#000"/>
<rect x="578" y="658" width="1" height="3" fill="#000"/>
<rect x="642" y="658" width="1" height="3" fill="#000"/>
<rect x="706" y="658" width="1" height="3" fill="#000"/>
<rect x="770" y="658" width="1" height="3" fill="#000"/>
<rect x="834" y="658" width="1" height="3" fill="#000"/>
<rect x="898" y="658" width="1" height="3" fill="#000"/>
</svg>
<svg class="abs" style="left:0;top:0" width="1208" height="680" viewBox="0 0 1208 680" text-rendering="geometricPrecision"><text x="-2.9" y="10" font-size="10" fill="#3a3a3a" stroke="#3a3a3a" stroke-width="0" textLength="6.2" lengthAdjust="spacingAndGlyphs">5</text>
<text x="13.4" y="10" font-size="10" fill="#3a3a3a" stroke="#3a3a3a" stroke-width="0" textLength="18" lengthAdjust="spacingAndGlyphs">M30</text>
<text x="44.5" y="10" font-size="10" fill="#3a3a3a" stroke="#3a3a3a" stroke-width="0" textLength="12.1" lengthAdjust="spacingAndGlyphs">H1</text>
<text x="71.3" y="10" font-size="10" fill="#3a3a3a" stroke="#3a3a3a" stroke-width="0" textLength="13" lengthAdjust="spacingAndGlyphs">H4</text>
<text x="100.7" y="10" font-size="10" fill="#3a3a3a" stroke="#3a3a3a" stroke-width="0" textLength="11.6" lengthAdjust="spacingAndGlyphs">D1</text>
<text x="128" y="10" font-size="10" fill="#3a3a3a" stroke="#3a3a3a" stroke-width="0" textLength="14.3" lengthAdjust="spacingAndGlyphs">W1</text>
<text x="154.5" y="10" font-size="10" fill="#3a3a3a" stroke="#3a3a3a" stroke-width="0" textLength="15" lengthAdjust="spacingAndGlyphs">MN</text>
<text x="1169.7" y="87" font-size="10" fill="#000" stroke="#000" stroke-width="0.15" textLength="33.8" lengthAdjust="spacingAndGlyphs">0.92430</text>
<text x="1169.7" y="120" font-size="10" fill="#000" stroke="#000" stroke-width="0.15" textLength="33.8" lengthAdjust="spacingAndGlyphs">0.92160</text>
<text x="1169.7" y="153" font-size="10" fill="#000" stroke="#000" stroke-width="0.15" textLength="33.8" lengthAdjust="spacingAndGlyphs">0.91885</text>
<text x="1169.7" y="186" font-size="10" fill="#000" stroke="#000" stroke-width="0.15" textLength="33.8" lengthAdjust="spacingAndGlyphs">0.91615</text>
<text x="1169.7" y="219" font-size="10" fill="#000" stroke="#000" stroke-width="0.15" textLength="33.8" lengthAdjust="spacingAndGlyphs">0.91345</text>
<text x="1169.7" y="252" font-size="10" fill="#000" stroke="#000" stroke-width="0.15" textLength="33.8" lengthAdjust="spacingAndGlyphs">0.91075</text>
<text x="1169.7" y="285" font-size="10" fill="#000" stroke="#000" stroke-width="0.15" textLength="33.8" lengthAdjust="spacingAndGlyphs">0.90805</text>
<text x="1169.7" y="318" font-size="10" fill="#000" stroke="#000" stroke-width="0.15" textLength="33.8" lengthAdjust="spacingAndGlyphs">0.90535</text>
<text x="1169.7" y="351" font-size="10" fill="#000" stroke="#000" stroke-width="0.15" textLength="33.8" lengthAdjust="spacingAndGlyphs">0.90265</text>
<text x="1169.7" y="384" font-size="10" fill="#000" stroke="#000" stroke-width="0.15" textLength="33.8" lengthAdjust="spacingAndGlyphs">0.89990</text>
<text x="1169.7" y="417" font-size="10" fill="#000" stroke="#000" stroke-width="0.15" textLength="33.8" lengthAdjust="spacingAndGlyphs">0.89720</text>
<text x="1169.7" y="450" font-size="10" fill="#000" stroke="#000" stroke-width="0.15" textLength="33.8" lengthAdjust="spacingAndGlyphs">0.89450</text>
<text x="1169.7" y="483" font-size="10" fill="#000" stroke="#000" stroke-width="0.15" textLength="33.8" lengthAdjust="spacingAndGlyphs">0.89180</text>
<rect x="1166" y="44" width="41" height="11" fill="#ff0000" shape-rendering="crispEdges"/>
<text x="1169.8" y="53" font-size="10" fill="#fff" stroke="#fff" stroke-width="0.15" textLength="33.5" lengthAdjust="spacingAndGlyphs">0.92699</text>
<rect x="1166" y="147" width="41" height="11" fill="#ff0000" shape-rendering="crispEdges"/>
<text x="1169.8" y="156" font-size="10" fill="#fff" stroke="#fff" stroke-width="0.15" textLength="33.5" lengthAdjust="spacingAndGlyphs">0.91855</text>
<rect x="1166" y="226" width="41" height="11" fill="#00ff00" shape-rendering="crispEdges"/>
<text x="1169.8" y="235" font-size="10" fill="#fff" stroke="#fff" stroke-width="0.15" textLength="33.5" lengthAdjust="spacingAndGlyphs">0.91208</text>
<rect x="1166" y="324" width="41" height="11" fill="#0000ff" shape-rendering="crispEdges"/>
<text x="1169.8" y="333" font-size="10" fill="#fff" stroke="#fff" stroke-width="0.15" textLength="33.5" lengthAdjust="spacingAndGlyphs">0.90405</text>
<rect x="1166" y="422" width="41" height="11" fill="#0000ff" shape-rendering="crispEdges"/>
<text x="1169.8" y="431" font-size="10" fill="#fff" stroke="#fff" stroke-width="0.15" textLength="33.5" lengthAdjust="spacingAndGlyphs">0.89602</text>
<rect x="1166" y="132" width="41" height="11" fill="#000000" shape-rendering="crispEdges"/>
<text x="1169.8" y="141" font-size="10" fill="#fff" stroke="#fff" stroke-width="0.15" textLength="33.5" lengthAdjust="spacingAndGlyphs">0.91986</text>
<text x="1167.6" y="495" font-size="10" fill="#000" stroke="#000" stroke-width="0.15" textLength="38.1" lengthAdjust="spacingAndGlyphs">0.006451</text>
<text x="1167.6" y="543" font-size="10" fill="#000" stroke="#000" stroke-width="0.15" textLength="18.6" lengthAdjust="spacingAndGlyphs">0.00</text>
<text x="1167.9" y="565" font-size="10" fill="#000" stroke="#000" stroke-width="0.15" textLength="42.9" lengthAdjust="spacingAndGlyphs">-0.003507</text>
<text x="1168.1" y="581" font-size="10" fill="#000" stroke="#000" stroke-width="0.15" textLength="15" lengthAdjust="spacingAndGlyphs">100</text>
<text x="1167.3" y="601" font-size="10" fill="#000" stroke="#000" stroke-width="0.15" textLength="10.2" lengthAdjust="spacingAndGlyphs">70</text>
<text x="1167" y="635" font-size="10" fill="#000" stroke="#000" stroke-width="0.15" textLength="10.4" lengthAdjust="spacingAndGlyphs">30</text>
<text x="1167.8" y="654" font-size="10" fill="#000" stroke="#000" stroke-width="0.15" textLength="5.5" lengthAdjust="spacingAndGlyphs">0</text>
<path d="M8 29h1v1h1v1h1v1h1v1h-7v-1h1v-1h1v-1h1z" fill="#000" shape-rendering="crispEdges"/>
<text x="16.9" y="34" font-size="10" fill="#000" stroke="#000" stroke-width="0.15" textLength="202" lengthAdjust="spacingAndGlyphs">USDCHF,H4&#160;&#160;0.92003 0.92034 0.91986 0.91986</text>
<text x="6.1" y="497" font-size="10" fill="#000" stroke="#000" stroke-width="0.15" textLength="147.6" lengthAdjust="spacingAndGlyphs">MACD(12,26,9) 0.000578 0.000961</text>
<text x="6.1" y="583" font-size="10" fill="#000" stroke="#000" stroke-width="0.15" textLength="68.1" lengthAdjust="spacingAndGlyphs">RSI(14) 51.1139</text>
<text x="0.8" y="670" font-size="10" fill="#000" stroke="#000" stroke-width="0.15" textLength="55" lengthAdjust="spacingAndGlyphs">31 May 2021</text>
<text x="64.9" y="670" font-size="10" fill="#000" stroke="#000" stroke-width="0.15" textLength="48" lengthAdjust="spacingAndGlyphs">7 Jun 19:00</text>
<text x="128.8" y="670" font-size="10" fill="#000" stroke="#000" stroke-width="0.15" textLength="53.4" lengthAdjust="spacingAndGlyphs">15 Jun 00:00</text>
<text x="193" y="670" font-size="10" fill="#000" stroke="#000" stroke-width="0.15" textLength="53.1" lengthAdjust="spacingAndGlyphs">22 Jun 10:00</text>
<text x="257.1" y="670" font-size="10" fill="#000" stroke="#000" stroke-width="0.15" textLength="52.8" lengthAdjust="spacingAndGlyphs">29 Jun 18:00</text>
<text x="320.9" y="670" font-size="10" fill="#000" stroke="#000" stroke-width="0.15" textLength="45.3" lengthAdjust="spacingAndGlyphs">7 Jul 00:00</text>
<text x="385.1" y="670" font-size="10" fill="#000" stroke="#000" stroke-width="0.15" textLength="50.1" lengthAdjust="spacingAndGlyphs">14 Jul 10:00</text>
<text x="449" y="670" font-size="10" fill="#000" stroke="#000" stroke-width="0.15" textLength="50.1" lengthAdjust="spacingAndGlyphs">21 Jul 18:00</text>
<text x="513.1" y="670" font-size="10" fill="#000" stroke="#000" stroke-width="0.15" textLength="49.7" lengthAdjust="spacingAndGlyphs">29 Jul 00:00</text>
<text x="576.7" y="670" font-size="10" fill="#000" stroke="#000" stroke-width="0.15" textLength="51.1" lengthAdjust="spacingAndGlyphs">5 Aug 10:00</text>
<text x="641.1" y="670" font-size="10" fill="#000" stroke="#000" stroke-width="0.15" textLength="56.1" lengthAdjust="spacingAndGlyphs">12 Aug 18:00</text>
<text x="705" y="670" font-size="10" fill="#000" stroke="#000" stroke-width="0.15" textLength="56.1" lengthAdjust="spacingAndGlyphs">20 Aug 00:00</text>
<text x="769.1" y="670" font-size="10" fill="#000" stroke="#000" stroke-width="0.15" textLength="56.2" lengthAdjust="spacingAndGlyphs">27 Aug 10:00</text>
<text x="832.7" y="670" font-size="10" fill="#000" stroke="#000" stroke-width="0.15" textLength="50.1" lengthAdjust="spacingAndGlyphs">3 Sep 18:00</text>
<text x="897.3" y="670" font-size="10" fill="#000" stroke="#000" stroke-width="0.15" textLength="54.4" lengthAdjust="spacingAndGlyphs">11 Sep 00:00</text></svg>
<div class="abs" style="left:0;top:678px;width:1208px;height:1px;background:#e6e6e6"></div>
<div class="abs" style="left:0;top:680px;width:1208px;height:1px;background:#000"></div>
<div class="abs" style="left:0;top:681px;width:1208px;height:1px;background:#fbfbfb"></div>
<div class="abs" style="left:0;top:682px;width:1208px;height:21px;background:#f0f0f0"></div>
<div class="abs" style="left:0;top:700px;width:1208px;height:1px;background:#fbfbfb"></div>
<div class="abs" style="left:199px;top:680px;width:88px;height:19px;background:#fff;border:1px solid #000;border-top:none;box-sizing:border-box"></div>
<svg class="abs" style="left:0;top:0" width="1208" height="703" viewBox="0 0 1208 703" text-rendering="geometricPrecision"><text x="15.3" y="695" font-size="12" fill="#767676" stroke="#767676" stroke-width="0" textLength="67.8" lengthAdjust="spacingAndGlyphs">EURUSD,H4</text>
<text x="105.7" y="695" font-size="12" fill="#767676" stroke="#767676" stroke-width="0" textLength="82.6" lengthAdjust="spacingAndGlyphs">AUDUSD,Daily</text>
<text x="209" y="695" font-size="12" fill="#000" stroke="#000" stroke-width="0.1" textLength="67.1" lengthAdjust="spacingAndGlyphs">USDCHF,H4</text>
<text x="297.7" y="695" font-size="12" fill="#767676" stroke="#767676" stroke-width="0" textLength="81.1" lengthAdjust="spacingAndGlyphs">USDCAD,Daily</text>
<text x="401.4" y="695" font-size="12" fill="#767676" stroke="#767676" stroke-width="0" textLength="82.3" lengthAdjust="spacingAndGlyphs">USDCNH,Daily</text>
<text x="507.3" y="695" font-size="12" fill="#767676" stroke="#767676" stroke-width="0" textLength="51.9" lengthAdjust="spacingAndGlyphs">UKOil,H1</text>
<text x="581.2" y="695" font-size="12" fill="#767676" stroke="#767676" stroke-width="0" textLength="46.9" lengthAdjust="spacingAndGlyphs">DJ30,H1</text>
<text x="651.4" y="695" font-size="12" fill="#767676" stroke="#767676" stroke-width="0" textLength="51.2" lengthAdjust="spacingAndGlyphs">USDX,H1</text>
<text x="725.9" y="695" font-size="12" fill="#767676" stroke="#767676" stroke-width="0" textLength="69.1" lengthAdjust="spacingAndGlyphs">XAUUSD,H4</text>
<text x="819" y="695" font-size="12" fill="#767676" stroke="#767676" stroke-width="0" textLength="68.1" lengthAdjust="spacingAndGlyphs">GBPUSD,H1</text>
<rect x="95" y="685" width="1" height="12" fill="#767676" shape-rendering="crispEdges"/>
<rect x="392" y="685" width="1" height="12" fill="#767676" shape-rendering="crispEdges"/>
<rect x="496" y="685" width="1" height="12" fill="#767676" shape-rendering="crispEdges"/>
<rect x="571" y="685" width="1" height="12" fill="#767676" shape-rendering="crispEdges"/>
<rect x="639" y="685" width="1" height="12" fill="#767676" shape-rendering="crispEdges"/>
<rect x="715" y="685" width="1" height="12" fill="#767676" shape-rendering="crispEdges"/>
<rect x="807" y="685" width="1" height="12" fill="#767676" shape-rendering="crispEdges"/>
<rect x="899" y="685" width="1" height="12" fill="#767676" shape-rendering="crispEdges"/>
<path d="M1180 689 L1183.2 685.8 L1183.2 692.2 Z M1198.8 685.8 L1202 689 L1198.8 692.2 Z" fill="#8c8c8c"/></svg>
<div class="abs" style="left:5px;top:42px;width:219px;height:57px;">
<div class="abs" style="left:-2px;top:-2px;width:223px;height:61px;background:#fff"></div>
<div class="abs" style="left:0;top:24px;width:109px;height:33px;background:linear-gradient(#dc2a2a 0%,#c81818 50%,#b00808 100%);box-shadow:inset 0 0 0 1px #b40a0a"></div>
<div class="abs" style="left:111px;top:24px;width:108px;height:33px;background:linear-gradient(#dc2a2a 0%,#c81818 50%,#b00808 100%);box-shadow:inset 0 0 0 1px #b40a0a"></div>
<div class="abs" style="left:0;top:0;width:52px;height:25px;background:linear-gradient(#f95050 0%,#ee4040 50%,#dc2a2a 100%);border:1px solid #c01010;border-bottom:none;box-sizing:border-box"></div>
<div class="abs" style="left:167px;top:0;width:52px;height:25px;background:linear-gradient(#f95050 0%,#ee4040 50%,#dc2a2a 100%);border:1px solid #c01010;border-bottom:none;box-sizing:border-box"></div>
<div class="abs" style="left:4px;top:23px;width:44px;height:1px;background:#9c0000"></div>
<div class="abs" style="left:4px;top:24px;width:44px;height:1px;background:#f06a6a"></div>
<div class="abs" style="left:171px;top:23px;width:44px;height:1px;background:#9c0000"></div>
<div class="abs" style="left:171px;top:24px;width:44px;height:1px;background:#f06a6a"></div>
<div class="t" style="left:12px;top:5.8px;font-size:12px;color:#ffe6e0;transform-origin:0 0;transform:scaleX(0.89)">SELL</div>
<div class="t" style="left:180.3px;top:5.8px;font-size:12px;color:#ffe6e0;transform-origin:0 0;transform:scaleX(0.96)">BUY</div>
<div class="t" style="left:19.5px;top:41.5px;font-size:12.3px;font-weight:bold;color:#fff;">0.91</div>
<div class="t" style="left:129.5px;top:41.5px;font-size:12.3px;font-weight:bold;color:#fff;">0.92</div>
<div class="t" style="left:46.7px;top:22.1px;font-size:34.5px;color:#fff;-webkit-text-stroke:0.45px #c81a1a;transform-origin:0 0;transform:scaleX(0.925)">98</div>
<div class="t" style="left:157.2px;top:22.1px;font-size:34.5px;color:#fff;-webkit-text-stroke:0.45px #c81a1a;transform-origin:0 0;transform:scaleX(0.925)">00</div>
<div class="t" style="left:86.7px;top:26.1px;font-size:12.6px;font-weight:bold;color:#fff;transform-origin:0 0;transform:scaleX(0.97)">9</div>
<div class="t" style="left:197.7px;top:26.1px;font-size:12.6px;font-weight:bold;color:#fff;transform-origin:0 0;transform:scaleX(0.97)">3</div>
<div class="abs" style="left:54px;top:0;width:111px;height:22px;background:#fff;border:1px solid #a8a8b4;box-sizing:border-box"></div>
<div class="abs" style="left:55px;top:1px;width:20px;height:20px;background:linear-gradient(#f2f2f2 0%,#e4e4e4 45%,#d2d2d2 55%,#d0d0d0 100%);border-right:1px solid #a8a8b4;box-sizing:border-box"></div>
<div class="abs" style="left:144px;top:1px;width:20px;height:20px;background:linear-gradient(#f2f2f2 0%,#e4e4e4 45%,#d2d2d2 55%,#d0d0d0 100%);border-left:1px solid #a8a8b4;box-sizing:border-box"></div>
<svg class="abs" style="left:55px;top:1px" width="110" height="20"><path d="M7 8.5 L12 8.5 L9.5 11.5 Z" fill="#4058b8"/><path d="M96 11.5 L101 11.5 L98.5 8.5 Z" fill="#4058b8"/></svg>
<div class="t" style="left:116px;top:5px;font-size:12.4px;color:#0a0a20;">3.00</div>
</div>
</body></html>
